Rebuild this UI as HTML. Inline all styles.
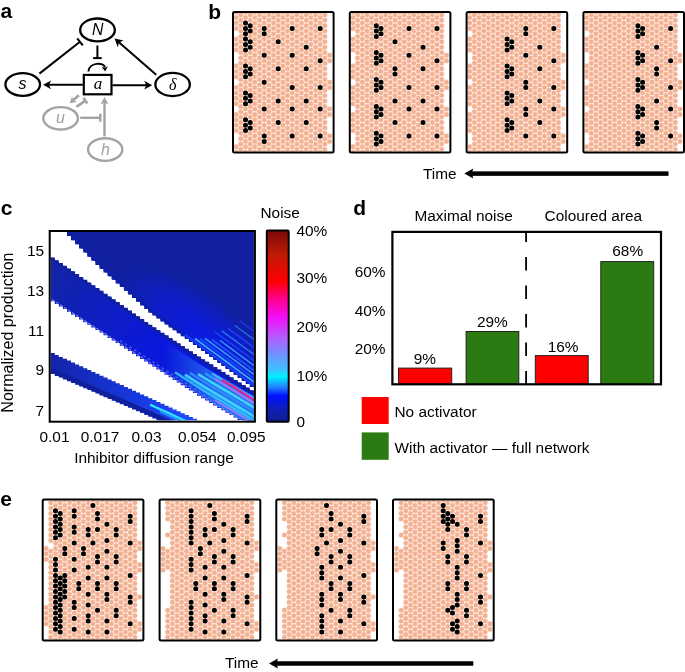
<!DOCTYPE html>
<html><head><meta charset="utf-8"><style>
html,body{margin:0;padding:0;background:#fff;}
svg{display:block;will-change:transform;}
svg{font-family:"Liberation Sans",sans-serif;}
</style></head><body>
<svg width="685" height="672" viewBox="0 0 685 672">
<rect width="685" height="672" fill="#fff"/>
<text x="208.2" y="18.8" font-weight="bold" font-size="21">b</text>
<text x="0.8" y="215.2" font-weight="bold" font-size="21">c</text>
<text x="353.3" y="215" font-weight="bold" font-size="21">d</text>
<text x="0.3" y="505.6" font-weight="bold" font-size="21">e</text>
<text x="0.6" y="18.4" font-weight="bold" font-size="21">a</text>
<ellipse cx="97.5" cy="29.95" rx="17.35" ry="11.45" fill="none" stroke="#000" stroke-width="2.3"/>
<text x="97.8" y="34.8" font-style="italic" font-size="15.8" text-anchor="middle">N</text>
<ellipse cx="22.7" cy="84.5" rx="17.3" ry="11.3" fill="none" stroke="#000" stroke-width="2.3"/>
<text x="22.5" y="88.9" font-style="italic" font-size="16" text-anchor="middle">s</text>
<ellipse cx="172.6" cy="84.5" rx="17.25" ry="11.55" fill="none" stroke="#000" stroke-width="2.3"/>
<text x="172.8" y="89.6" font-family="Liberation Serif" font-style="italic" font-size="16" text-anchor="middle">δ</text>
<rect x="83.8" y="74.9" width="27.7" height="19.4" fill="none" stroke="#000" stroke-width="2.2"/>
<text x="97.9" y="89.4" font-family="Liberation Serif" font-style="italic" font-size="17" text-anchor="middle">a</text>
<line x1="82.80" y1="84.80" x2="46.10" y2="84.80" stroke="#000" stroke-width="2"/><polygon fill="#000" points="43.10,84.80 51.10,80.40 48.90,84.80 51.10,89.20"/>
<line x1="112.50" y1="85.20" x2="149.20" y2="85.20" stroke="#000" stroke-width="2"/><polygon fill="#000" points="152.20,85.20 144.20,89.60 146.40,85.20 144.20,80.80"/>
<line x1="156.20" y1="74.80" x2="116.86" y2="40.57" stroke="#000" stroke-width="2"/><polygon fill="#000" points="114.60,38.60 123.52,40.53 118.98,42.41 117.75,47.17"/>
<line x1="39.40" y1="73.60" x2="80.00" y2="41.80" stroke="#000" stroke-width="2"/><line x1="82.77" y1="45.34" x2="77.23" y2="38.26" stroke="#000" stroke-width="2"/>
<line x1="97.40" y1="45.50" x2="97.40" y2="58.10" stroke="#000" stroke-width="2"/><line x1="93.10" y1="58.10" x2="101.70" y2="58.10" stroke="#000" stroke-width="2"/>
<path d="M88.4 71.5 C88.6 62.5 104.5 61.5 104.8 67.5" fill="none" stroke="#000" stroke-width="2"/>
<polygon fill="#000" points="105.20,71.50 101.52,66.84 104.85,68.02 107.89,66.21"/>
<ellipse cx="60.6" cy="118.3" rx="17.3" ry="11.2" fill="none" stroke="#a3a3a3" stroke-width="2.4"/>
<text x="60.5" y="123.3" font-style="italic" font-size="16" text-anchor="middle" fill="#a3a3a3">u</text>
<ellipse cx="105.2" cy="149.6" rx="17.1" ry="11.3" fill="none" stroke="#a3a3a3" stroke-width="2.4"/>
<text x="105.4" y="155" font-style="italic" font-size="16" text-anchor="middle" fill="#a3a3a3">h</text>
<line x1="104.50" y1="136.30" x2="104.50" y2="100.00" stroke="#a3a3a3" stroke-width="2.4"/><polygon fill="#a3a3a3" points="104.50,97.00 108.50,104.50 104.50,102.30 100.50,104.50"/>
<line x1="80.20" y1="117.80" x2="100.30" y2="117.80" stroke="#a3a3a3" stroke-width="2.4"/><line x1="100.30" y1="121.80" x2="100.30" y2="113.80" stroke="#a3a3a3" stroke-width="2.4"/>
<line x1="78.80" y1="95.20" x2="72.04" y2="101.21" stroke="#a3a3a3" stroke-width="2.8"/><polygon fill="#a3a3a3" points="69.80,103.20 72.13,96.04 73.01,100.34 77.18,101.72"/>
<line x1="76.40" y1="106.90" x2="85.40" y2="100.60" stroke="#a3a3a3" stroke-width="2.6"/><line x1="87.35" y1="103.39" x2="83.45" y2="97.81" stroke="#a3a3a3" stroke-width="2.6"/>
<clipPath id="cb0"><rect x="234" y="13" width="98.6" height="138.6"/></clipPath>
<g clip-path="url(#cb0)" stroke-linecap="round" fill="none"><defs><path id="pb0" d="M236.2 12.2h0M236.2 17.6h0M236.2 23.0h0M236.2 28.4h0M236.2 39.1h0M236.2 44.5h0M236.2 49.9h0M236.2 66.0h0M236.2 71.4h0M236.2 76.8h0M236.2 87.6h0M236.2 92.9h0M236.2 98.3h0M236.2 103.7h0M236.2 114.5h0M236.2 119.8h0M236.2 125.2h0M236.2 130.6h0M236.2 146.7h0M236.2 152.1h0M240.8 9.5h0M240.8 14.9h0M240.8 20.3h0M240.8 25.7h0M240.8 31.1h0M240.8 36.4h0M240.8 41.8h0M240.8 47.2h0M240.8 52.6h0M240.8 58.0h0M240.8 63.3h0M240.8 68.7h0M240.8 74.1h0M240.8 79.5h0M240.8 84.9h0M240.8 90.2h0M240.8 95.6h0M240.8 101.0h0M240.8 106.4h0M240.8 111.8h0M240.8 117.1h0M240.8 122.5h0M240.8 127.9h0M240.8 133.3h0M240.8 138.7h0M240.8 144.1h0M240.8 149.4h0M240.8 154.8h0M245.5 12.2h0M245.5 17.6h0M245.5 23.0h0M245.5 28.4h0M245.5 33.8h0M245.5 39.1h0M245.5 44.5h0M245.5 49.9h0M245.5 55.3h0M245.5 60.7h0M245.5 66.0h0M245.5 71.4h0M245.5 76.8h0M245.5 82.2h0M245.5 87.6h0M245.5 92.9h0M245.5 98.3h0M245.5 103.7h0M245.5 109.1h0M245.5 114.5h0M245.5 119.8h0M245.5 125.2h0M245.5 130.6h0M245.5 136.0h0M245.5 141.4h0M245.5 146.7h0M245.5 152.1h0M250.2 9.5h0M250.2 14.9h0M250.2 20.3h0M250.2 25.7h0M250.2 31.1h0M250.2 36.4h0M250.2 41.8h0M250.2 47.2h0M250.2 52.6h0M250.2 58.0h0M250.2 63.3h0M250.2 68.7h0M250.2 74.1h0M250.2 79.5h0M250.2 84.9h0M250.2 90.2h0M250.2 95.6h0M250.2 101.0h0M250.2 106.4h0M250.2 111.8h0M250.2 117.1h0M250.2 122.5h0M250.2 127.9h0M250.2 133.3h0M250.2 138.7h0M250.2 144.1h0M250.2 149.4h0M250.2 154.8h0M254.8 12.2h0M254.8 17.6h0M254.8 23.0h0M254.8 28.4h0M254.8 33.8h0M254.8 39.1h0M254.8 44.5h0M254.8 49.9h0M254.8 55.3h0M254.8 60.7h0M254.8 66.0h0M254.8 71.4h0M254.8 76.8h0M254.8 82.2h0M254.8 87.6h0M254.8 92.9h0M254.8 98.3h0M254.8 103.7h0M254.8 109.1h0M254.8 114.5h0M254.8 119.8h0M254.8 125.2h0M254.8 130.6h0M254.8 136.0h0M254.8 141.4h0M254.8 146.7h0M254.8 152.1h0M259.5 9.5h0M259.5 14.9h0M259.5 20.3h0M259.5 25.7h0M259.5 31.1h0M259.5 36.4h0M259.5 41.8h0M259.5 47.2h0M259.5 52.6h0M259.5 58.0h0M259.5 63.3h0M259.5 68.7h0M259.5 74.1h0M259.5 79.5h0M259.5 84.9h0M259.5 90.2h0M259.5 95.6h0M259.5 101.0h0M259.5 106.4h0M259.5 111.8h0M259.5 117.1h0M259.5 122.5h0M259.5 127.9h0M259.5 133.3h0M259.5 138.7h0M259.5 144.1h0M259.5 149.4h0M259.5 154.8h0M264.2 12.2h0M264.2 17.6h0M264.2 23.0h0M264.2 28.4h0M264.2 33.8h0M264.2 39.1h0M264.2 44.5h0M264.2 49.9h0M264.2 55.3h0M264.2 60.7h0M264.2 66.0h0M264.2 71.4h0M264.2 76.8h0M264.2 82.2h0M264.2 87.6h0M264.2 92.9h0M264.2 98.3h0M264.2 103.7h0M264.2 109.1h0M264.2 114.5h0M264.2 119.8h0M264.2 125.2h0M264.2 130.6h0M264.2 136.0h0M264.2 141.4h0M264.2 146.7h0M264.2 152.1h0M268.9 9.5h0M268.9 14.9h0M268.9 20.3h0M268.9 25.7h0M268.9 31.1h0M268.9 36.4h0M268.9 41.8h0M268.9 47.2h0M268.9 52.6h0M268.9 58.0h0M268.9 63.3h0M268.9 68.7h0M268.9 74.1h0M268.9 79.5h0M268.9 84.9h0M268.9 90.2h0M268.9 95.6h0M268.9 101.0h0M268.9 106.4h0M268.9 111.8h0M268.9 117.1h0M268.9 122.5h0M268.9 127.9h0M268.9 133.3h0M268.9 138.7h0M268.9 144.1h0M268.9 149.4h0M268.9 154.8h0M273.5 12.2h0M273.5 17.6h0M273.5 23.0h0M273.5 28.4h0M273.5 33.8h0M273.5 39.1h0M273.5 44.5h0M273.5 49.9h0M273.5 55.3h0M273.5 60.7h0M273.5 66.0h0M273.5 71.4h0M273.5 76.8h0M273.5 82.2h0M273.5 87.6h0M273.5 92.9h0M273.5 98.3h0M273.5 103.7h0M273.5 109.1h0M273.5 114.5h0M273.5 119.8h0M273.5 125.2h0M273.5 130.6h0M273.5 136.0h0M273.5 141.4h0M273.5 146.7h0M273.5 152.1h0M278.2 9.5h0M278.2 14.9h0M278.2 20.3h0M278.2 25.7h0M278.2 31.1h0M278.2 36.4h0M278.2 41.8h0M278.2 47.2h0M278.2 52.6h0M278.2 58.0h0M278.2 63.3h0M278.2 68.7h0M278.2 74.1h0M278.2 79.5h0M278.2 84.9h0M278.2 90.2h0M278.2 95.6h0M278.2 101.0h0M278.2 106.4h0M278.2 111.8h0M278.2 117.1h0M278.2 122.5h0M278.2 127.9h0M278.2 133.3h0M278.2 138.7h0M278.2 144.1h0M278.2 149.4h0M278.2 154.8h0M282.9 12.2h0M282.9 17.6h0M282.9 23.0h0M282.9 28.4h0M282.9 33.8h0M282.9 39.1h0M282.9 44.5h0M282.9 49.9h0M282.9 55.3h0M282.9 60.7h0M282.9 66.0h0M282.9 71.4h0M282.9 76.8h0M282.9 82.2h0M282.9 87.6h0M282.9 92.9h0M282.9 98.3h0M282.9 103.7h0M282.9 109.1h0M282.9 114.5h0M282.9 119.8h0M282.9 125.2h0M282.9 130.6h0M282.9 136.0h0M282.9 141.4h0M282.9 146.7h0M282.9 152.1h0M287.5 9.5h0M287.5 14.9h0M287.5 20.3h0M287.5 25.7h0M287.5 31.1h0M287.5 36.4h0M287.5 41.8h0M287.5 47.2h0M287.5 52.6h0M287.5 58.0h0M287.5 63.3h0M287.5 68.7h0M287.5 74.1h0M287.5 79.5h0M287.5 84.9h0M287.5 90.2h0M287.5 95.6h0M287.5 101.0h0M287.5 106.4h0M287.5 111.8h0M287.5 117.1h0M287.5 122.5h0M287.5 127.9h0M287.5 133.3h0M287.5 138.7h0M287.5 144.1h0M287.5 149.4h0M287.5 154.8h0M292.2 12.2h0M292.2 17.6h0M292.2 23.0h0M292.2 28.4h0M292.2 33.8h0M292.2 39.1h0M292.2 44.5h0M292.2 49.9h0M292.2 55.3h0M292.2 60.7h0M292.2 66.0h0M292.2 71.4h0M292.2 76.8h0M292.2 82.2h0M292.2 87.6h0M292.2 92.9h0M292.2 98.3h0M292.2 103.7h0M292.2 109.1h0M292.2 114.5h0M292.2 119.8h0M292.2 125.2h0M292.2 130.6h0M292.2 136.0h0M292.2 141.4h0M292.2 146.7h0M292.2 152.1h0M296.9 9.5h0M296.9 14.9h0M296.9 20.3h0M296.9 25.7h0M296.9 31.1h0M296.9 36.4h0M296.9 41.8h0M296.9 47.2h0M296.9 52.6h0M296.9 58.0h0M296.9 63.3h0M296.9 68.7h0M296.9 74.1h0M296.9 79.5h0M296.9 84.9h0M296.9 90.2h0M296.9 95.6h0M296.9 101.0h0M296.9 106.4h0M296.9 111.8h0M296.9 117.1h0M296.9 122.5h0M296.9 127.9h0M296.9 133.3h0M296.9 138.7h0M296.9 144.1h0M296.9 149.4h0M296.9 154.8h0M301.5 12.2h0M301.5 17.6h0M301.5 23.0h0M301.5 28.4h0M301.5 33.8h0M301.5 39.1h0M301.5 44.5h0M301.5 49.9h0M301.5 55.3h0M301.5 60.7h0M301.5 66.0h0M301.5 71.4h0M301.5 76.8h0M301.5 82.2h0M301.5 87.6h0M301.5 92.9h0M301.5 98.3h0M301.5 103.7h0M301.5 109.1h0M301.5 114.5h0M301.5 119.8h0M301.5 125.2h0M301.5 130.6h0M301.5 136.0h0M301.5 141.4h0M301.5 146.7h0M301.5 152.1h0M306.2 9.5h0M306.2 14.9h0M306.2 20.3h0M306.2 25.7h0M306.2 31.1h0M306.2 36.4h0M306.2 41.8h0M306.2 47.2h0M306.2 52.6h0M306.2 58.0h0M306.2 63.3h0M306.2 68.7h0M306.2 74.1h0M306.2 79.5h0M306.2 84.9h0M306.2 90.2h0M306.2 95.6h0M306.2 101.0h0M306.2 106.4h0M306.2 111.8h0M306.2 117.1h0M306.2 122.5h0M306.2 127.9h0M306.2 133.3h0M306.2 138.7h0M306.2 144.1h0M306.2 149.4h0M306.2 154.8h0M310.9 12.2h0M310.9 17.6h0M310.9 23.0h0M310.9 28.4h0M310.9 33.8h0M310.9 39.1h0M310.9 44.5h0M310.9 49.9h0M310.9 55.3h0M310.9 60.7h0M310.9 66.0h0M310.9 71.4h0M310.9 76.8h0M310.9 82.2h0M310.9 87.6h0M310.9 92.9h0M310.9 98.3h0M310.9 103.7h0M310.9 109.1h0M310.9 114.5h0M310.9 119.8h0M310.9 125.2h0M310.9 130.6h0M310.9 136.0h0M310.9 141.4h0M310.9 146.7h0M310.9 152.1h0M315.6 9.5h0M315.6 14.9h0M315.6 20.3h0M315.6 25.7h0M315.6 31.1h0M315.6 36.4h0M315.6 41.8h0M315.6 47.2h0M315.6 52.6h0M315.6 58.0h0M315.6 63.3h0M315.6 68.7h0M315.6 74.1h0M315.6 79.5h0M315.6 84.9h0M315.6 90.2h0M315.6 95.6h0M315.6 101.0h0M315.6 106.4h0M315.6 111.8h0M315.6 117.1h0M315.6 122.5h0M315.6 127.9h0M315.6 133.3h0M315.6 138.7h0M315.6 144.1h0M315.6 149.4h0M315.6 154.8h0M320.2 12.2h0M320.2 17.6h0M320.2 23.0h0M320.2 28.4h0M320.2 33.8h0M320.2 39.1h0M320.2 44.5h0M320.2 49.9h0M320.2 55.3h0M320.2 60.7h0M320.2 66.0h0M320.2 71.4h0M320.2 76.8h0M320.2 82.2h0M320.2 87.6h0M320.2 92.9h0M320.2 98.3h0M320.2 103.7h0M320.2 109.1h0M320.2 114.5h0M320.2 119.8h0M320.2 125.2h0M320.2 130.6h0M320.2 136.0h0M320.2 141.4h0M320.2 146.7h0M320.2 152.1h0M324.9 9.5h0M324.9 14.9h0M324.9 20.3h0M324.9 25.7h0M324.9 31.1h0M324.9 36.4h0M324.9 41.8h0M324.9 47.2h0M324.9 52.6h0M324.9 58.0h0M324.9 63.3h0M324.9 68.7h0M324.9 74.1h0M324.9 79.5h0M324.9 84.9h0M324.9 90.2h0M324.9 95.6h0M324.9 101.0h0M324.9 106.4h0M324.9 111.8h0M324.9 117.1h0M324.9 122.5h0M324.9 127.9h0M324.9 133.3h0M324.9 138.7h0M324.9 144.1h0M324.9 149.4h0M324.9 154.8h0M329.6 55.3h0M329.6 60.7h0M329.6 82.2h0M329.6 87.6h0M329.6 109.1h0M329.6 114.5h0M329.6 136.0h0M329.6 141.4h0"/></defs><use href="#pb0" stroke="#fbdccb" stroke-width="5.5"/><use href="#pb0" stroke="#f3b092" stroke-width="4.4"/></g>
<path clip-path="url(#cb0)" stroke="#000" stroke-width="5.0" stroke-linecap="round" fill="none" d="M245.5 23.0h0M245.5 28.4h0M245.5 33.8h0M245.5 39.1h0M245.5 44.5h0M245.5 49.9h0M245.5 66.0h0M245.5 71.4h0M245.5 76.8h0M245.5 92.9h0M245.5 98.3h0M245.5 103.7h0M245.5 119.8h0M245.5 125.2h0M245.5 130.6h0M250.2 25.7h0M250.2 31.1h0M250.2 41.8h0M250.2 47.2h0M250.2 68.7h0M250.2 74.1h0M250.2 95.6h0M250.2 101.0h0M250.2 122.5h0M250.2 127.9h0M264.2 28.4h0M264.2 33.8h0M264.2 55.3h0M264.2 82.2h0M264.2 109.1h0M264.2 136.0h0M264.2 141.4h0M278.2 41.8h0M278.2 68.7h0M278.2 101.0h0M278.2 122.5h0M292.2 28.4h0M292.2 55.3h0M292.2 87.6h0M292.2 109.1h0M292.2 136.0h0M306.2 47.2h0M306.2 68.7h0M306.2 101.0h0M306.2 122.5h0M320.2 28.4h0M320.2 60.7h0M320.2 87.6h0M320.2 109.1h0M320.2 136.0h0"/>
<rect x="233" y="12" width="100.6" height="140.6" fill="none" stroke="#000" stroke-width="2" rx="1.5"/>
<clipPath id="cb1"><rect x="350.8" y="13" width="98.6" height="138.6"/></clipPath>
<g clip-path="url(#cb1)" stroke-linecap="round" fill="none"><defs><path id="pb1" d="M353.0 12.2h0M353.0 17.6h0M353.0 23.0h0M353.0 28.4h0M353.0 39.1h0M353.0 44.5h0M353.0 49.9h0M353.0 66.0h0M353.0 71.4h0M353.0 76.8h0M353.0 87.6h0M353.0 92.9h0M353.0 98.3h0M353.0 103.7h0M353.0 114.5h0M353.0 119.8h0M353.0 125.2h0M353.0 130.6h0M353.0 146.7h0M353.0 152.1h0M357.6 9.5h0M357.6 14.9h0M357.6 20.3h0M357.6 25.7h0M357.6 31.1h0M357.6 36.4h0M357.6 41.8h0M357.6 47.2h0M357.6 52.6h0M357.6 58.0h0M357.6 63.3h0M357.6 68.7h0M357.6 74.1h0M357.6 79.5h0M357.6 84.9h0M357.6 90.2h0M357.6 95.6h0M357.6 101.0h0M357.6 106.4h0M357.6 111.8h0M357.6 117.1h0M357.6 122.5h0M357.6 127.9h0M357.6 133.3h0M357.6 138.7h0M357.6 144.1h0M357.6 149.4h0M357.6 154.8h0M362.3 12.2h0M362.3 17.6h0M362.3 23.0h0M362.3 28.4h0M362.3 33.8h0M362.3 39.1h0M362.3 44.5h0M362.3 49.9h0M362.3 55.3h0M362.3 60.7h0M362.3 66.0h0M362.3 71.4h0M362.3 76.8h0M362.3 82.2h0M362.3 87.6h0M362.3 92.9h0M362.3 98.3h0M362.3 103.7h0M362.3 109.1h0M362.3 114.5h0M362.3 119.8h0M362.3 125.2h0M362.3 130.6h0M362.3 136.0h0M362.3 141.4h0M362.3 146.7h0M362.3 152.1h0M367.0 9.5h0M367.0 14.9h0M367.0 20.3h0M367.0 25.7h0M367.0 31.1h0M367.0 36.4h0M367.0 41.8h0M367.0 47.2h0M367.0 52.6h0M367.0 58.0h0M367.0 63.3h0M367.0 68.7h0M367.0 74.1h0M367.0 79.5h0M367.0 84.9h0M367.0 90.2h0M367.0 95.6h0M367.0 101.0h0M367.0 106.4h0M367.0 111.8h0M367.0 117.1h0M367.0 122.5h0M367.0 127.9h0M367.0 133.3h0M367.0 138.7h0M367.0 144.1h0M367.0 149.4h0M367.0 154.8h0M371.6 12.2h0M371.6 17.6h0M371.6 23.0h0M371.6 28.4h0M371.6 33.8h0M371.6 39.1h0M371.6 44.5h0M371.6 49.9h0M371.6 55.3h0M371.6 60.7h0M371.6 66.0h0M371.6 71.4h0M371.6 76.8h0M371.6 82.2h0M371.6 87.6h0M371.6 92.9h0M371.6 98.3h0M371.6 103.7h0M371.6 109.1h0M371.6 114.5h0M371.6 119.8h0M371.6 125.2h0M371.6 130.6h0M371.6 136.0h0M371.6 141.4h0M371.6 146.7h0M371.6 152.1h0M376.3 9.5h0M376.3 14.9h0M376.3 20.3h0M376.3 25.7h0M376.3 31.1h0M376.3 36.4h0M376.3 41.8h0M376.3 47.2h0M376.3 52.6h0M376.3 58.0h0M376.3 63.3h0M376.3 68.7h0M376.3 74.1h0M376.3 79.5h0M376.3 84.9h0M376.3 90.2h0M376.3 95.6h0M376.3 101.0h0M376.3 106.4h0M376.3 111.8h0M376.3 117.1h0M376.3 122.5h0M376.3 127.9h0M376.3 133.3h0M376.3 138.7h0M376.3 144.1h0M376.3 149.4h0M376.3 154.8h0M381.0 12.2h0M381.0 17.6h0M381.0 23.0h0M381.0 28.4h0M381.0 33.8h0M381.0 39.1h0M381.0 44.5h0M381.0 49.9h0M381.0 55.3h0M381.0 60.7h0M381.0 66.0h0M381.0 71.4h0M381.0 76.8h0M381.0 82.2h0M381.0 87.6h0M381.0 92.9h0M381.0 98.3h0M381.0 103.7h0M381.0 109.1h0M381.0 114.5h0M381.0 119.8h0M381.0 125.2h0M381.0 130.6h0M381.0 136.0h0M381.0 141.4h0M381.0 146.7h0M381.0 152.1h0M385.7 9.5h0M385.7 14.9h0M385.7 20.3h0M385.7 25.7h0M385.7 31.1h0M385.7 36.4h0M385.7 41.8h0M385.7 47.2h0M385.7 52.6h0M385.7 58.0h0M385.7 63.3h0M385.7 68.7h0M385.7 74.1h0M385.7 79.5h0M385.7 84.9h0M385.7 90.2h0M385.7 95.6h0M385.7 101.0h0M385.7 106.4h0M385.7 111.8h0M385.7 117.1h0M385.7 122.5h0M385.7 127.9h0M385.7 133.3h0M385.7 138.7h0M385.7 144.1h0M385.7 149.4h0M385.7 154.8h0M390.3 12.2h0M390.3 17.6h0M390.3 23.0h0M390.3 28.4h0M390.3 33.8h0M390.3 39.1h0M390.3 44.5h0M390.3 49.9h0M390.3 55.3h0M390.3 60.7h0M390.3 66.0h0M390.3 71.4h0M390.3 76.8h0M390.3 82.2h0M390.3 87.6h0M390.3 92.9h0M390.3 98.3h0M390.3 103.7h0M390.3 109.1h0M390.3 114.5h0M390.3 119.8h0M390.3 125.2h0M390.3 130.6h0M390.3 136.0h0M390.3 141.4h0M390.3 146.7h0M390.3 152.1h0M395.0 9.5h0M395.0 14.9h0M395.0 20.3h0M395.0 25.7h0M395.0 31.1h0M395.0 36.4h0M395.0 41.8h0M395.0 47.2h0M395.0 52.6h0M395.0 58.0h0M395.0 63.3h0M395.0 68.7h0M395.0 74.1h0M395.0 79.5h0M395.0 84.9h0M395.0 90.2h0M395.0 95.6h0M395.0 101.0h0M395.0 106.4h0M395.0 111.8h0M395.0 117.1h0M395.0 122.5h0M395.0 127.9h0M395.0 133.3h0M395.0 138.7h0M395.0 144.1h0M395.0 149.4h0M395.0 154.8h0M399.7 12.2h0M399.7 17.6h0M399.7 23.0h0M399.7 28.4h0M399.7 33.8h0M399.7 39.1h0M399.7 44.5h0M399.7 49.9h0M399.7 55.3h0M399.7 60.7h0M399.7 66.0h0M399.7 71.4h0M399.7 76.8h0M399.7 82.2h0M399.7 87.6h0M399.7 92.9h0M399.7 98.3h0M399.7 103.7h0M399.7 109.1h0M399.7 114.5h0M399.7 119.8h0M399.7 125.2h0M399.7 130.6h0M399.7 136.0h0M399.7 141.4h0M399.7 146.7h0M399.7 152.1h0M404.3 9.5h0M404.3 14.9h0M404.3 20.3h0M404.3 25.7h0M404.3 31.1h0M404.3 36.4h0M404.3 41.8h0M404.3 47.2h0M404.3 52.6h0M404.3 58.0h0M404.3 63.3h0M404.3 68.7h0M404.3 74.1h0M404.3 79.5h0M404.3 84.9h0M404.3 90.2h0M404.3 95.6h0M404.3 101.0h0M404.3 106.4h0M404.3 111.8h0M404.3 117.1h0M404.3 122.5h0M404.3 127.9h0M404.3 133.3h0M404.3 138.7h0M404.3 144.1h0M404.3 149.4h0M404.3 154.8h0M409.0 12.2h0M409.0 17.6h0M409.0 23.0h0M409.0 28.4h0M409.0 33.8h0M409.0 39.1h0M409.0 44.5h0M409.0 49.9h0M409.0 55.3h0M409.0 60.7h0M409.0 66.0h0M409.0 71.4h0M409.0 76.8h0M409.0 82.2h0M409.0 87.6h0M409.0 92.9h0M409.0 98.3h0M409.0 103.7h0M409.0 109.1h0M409.0 114.5h0M409.0 119.8h0M409.0 125.2h0M409.0 130.6h0M409.0 136.0h0M409.0 141.4h0M409.0 146.7h0M409.0 152.1h0M413.7 9.5h0M413.7 14.9h0M413.7 20.3h0M413.7 25.7h0M413.7 31.1h0M413.7 36.4h0M413.7 41.8h0M413.7 47.2h0M413.7 52.6h0M413.7 58.0h0M413.7 63.3h0M413.7 68.7h0M413.7 74.1h0M413.7 79.5h0M413.7 84.9h0M413.7 90.2h0M413.7 95.6h0M413.7 101.0h0M413.7 106.4h0M413.7 111.8h0M413.7 117.1h0M413.7 122.5h0M413.7 127.9h0M413.7 133.3h0M413.7 138.7h0M413.7 144.1h0M413.7 149.4h0M413.7 154.8h0M418.3 12.2h0M418.3 17.6h0M418.3 23.0h0M418.3 28.4h0M418.3 33.8h0M418.3 39.1h0M418.3 44.5h0M418.3 49.9h0M418.3 55.3h0M418.3 60.7h0M418.3 66.0h0M418.3 71.4h0M418.3 76.8h0M418.3 82.2h0M418.3 87.6h0M418.3 92.9h0M418.3 98.3h0M418.3 103.7h0M418.3 109.1h0M418.3 114.5h0M418.3 119.8h0M418.3 125.2h0M418.3 130.6h0M418.3 136.0h0M418.3 141.4h0M418.3 146.7h0M418.3 152.1h0M423.0 9.5h0M423.0 14.9h0M423.0 20.3h0M423.0 25.7h0M423.0 31.1h0M423.0 36.4h0M423.0 41.8h0M423.0 47.2h0M423.0 52.6h0M423.0 58.0h0M423.0 63.3h0M423.0 68.7h0M423.0 74.1h0M423.0 79.5h0M423.0 84.9h0M423.0 90.2h0M423.0 95.6h0M423.0 101.0h0M423.0 106.4h0M423.0 111.8h0M423.0 117.1h0M423.0 122.5h0M423.0 127.9h0M423.0 133.3h0M423.0 138.7h0M423.0 144.1h0M423.0 149.4h0M423.0 154.8h0M427.7 12.2h0M427.7 17.6h0M427.7 23.0h0M427.7 28.4h0M427.7 33.8h0M427.7 39.1h0M427.7 44.5h0M427.7 49.9h0M427.7 55.3h0M427.7 60.7h0M427.7 66.0h0M427.7 71.4h0M427.7 76.8h0M427.7 82.2h0M427.7 87.6h0M427.7 92.9h0M427.7 98.3h0M427.7 103.7h0M427.7 109.1h0M427.7 114.5h0M427.7 119.8h0M427.7 125.2h0M427.7 130.6h0M427.7 136.0h0M427.7 141.4h0M427.7 146.7h0M427.7 152.1h0M432.4 9.5h0M432.4 14.9h0M432.4 20.3h0M432.4 25.7h0M432.4 31.1h0M432.4 36.4h0M432.4 41.8h0M432.4 47.2h0M432.4 52.6h0M432.4 58.0h0M432.4 63.3h0M432.4 68.7h0M432.4 74.1h0M432.4 79.5h0M432.4 84.9h0M432.4 90.2h0M432.4 95.6h0M432.4 101.0h0M432.4 106.4h0M432.4 111.8h0M432.4 117.1h0M432.4 122.5h0M432.4 127.9h0M432.4 133.3h0M432.4 138.7h0M432.4 144.1h0M432.4 149.4h0M432.4 154.8h0M437.0 12.2h0M437.0 17.6h0M437.0 23.0h0M437.0 28.4h0M437.0 33.8h0M437.0 39.1h0M437.0 44.5h0M437.0 49.9h0M437.0 55.3h0M437.0 60.7h0M437.0 66.0h0M437.0 71.4h0M437.0 76.8h0M437.0 82.2h0M437.0 87.6h0M437.0 92.9h0M437.0 98.3h0M437.0 103.7h0M437.0 109.1h0M437.0 114.5h0M437.0 119.8h0M437.0 125.2h0M437.0 130.6h0M437.0 136.0h0M437.0 141.4h0M437.0 146.7h0M437.0 152.1h0M441.7 9.5h0M441.7 14.9h0M441.7 20.3h0M441.7 25.7h0M441.7 31.1h0M441.7 36.4h0M441.7 41.8h0M441.7 47.2h0M441.7 52.6h0M441.7 58.0h0M441.7 63.3h0M441.7 68.7h0M441.7 74.1h0M441.7 79.5h0M441.7 84.9h0M441.7 90.2h0M441.7 95.6h0M441.7 101.0h0M441.7 106.4h0M441.7 111.8h0M441.7 117.1h0M441.7 122.5h0M441.7 127.9h0M441.7 133.3h0M441.7 138.7h0M441.7 144.1h0M441.7 149.4h0M441.7 154.8h0M446.4 55.3h0M446.4 60.7h0M446.4 82.2h0M446.4 87.6h0M446.4 109.1h0M446.4 114.5h0M446.4 136.0h0M446.4 141.4h0"/></defs><use href="#pb1" stroke="#fbdccb" stroke-width="5.5"/><use href="#pb1" stroke="#f3b092" stroke-width="4.4"/></g>
<path clip-path="url(#cb1)" stroke="#000" stroke-width="5.0" stroke-linecap="round" fill="none" d="M376.3 25.7h0M376.3 31.1h0M376.3 36.4h0M376.3 52.6h0M376.3 58.0h0M376.3 63.3h0M376.3 79.5h0M376.3 84.9h0M376.3 90.2h0M376.3 106.4h0M376.3 111.8h0M376.3 117.1h0M376.3 133.3h0M376.3 138.7h0M376.3 144.1h0M381.0 28.4h0M381.0 33.8h0M381.0 55.3h0M381.0 60.7h0M381.0 82.2h0M381.0 87.6h0M381.0 109.1h0M381.0 114.5h0M381.0 136.0h0M381.0 141.4h0M395.0 41.8h0M395.0 68.7h0M395.0 74.1h0M395.0 101.0h0M395.0 122.5h0M409.0 28.4h0M409.0 55.3h0M409.0 87.6h0M409.0 109.1h0M409.0 136.0h0M423.0 47.2h0M423.0 68.7h0M423.0 101.0h0M423.0 122.5h0M437.0 28.4h0M437.0 60.7h0M437.0 87.6h0M437.0 109.1h0M437.0 136.0h0"/>
<rect x="349.8" y="12" width="100.6" height="140.6" fill="none" stroke="#000" stroke-width="2" rx="1.5"/>
<clipPath id="cb2"><rect x="467.6" y="13" width="98.6" height="138.6"/></clipPath>
<g clip-path="url(#cb2)" stroke-linecap="round" fill="none"><defs><path id="pb2" d="M469.8 12.2h0M469.8 17.6h0M469.8 23.0h0M469.8 28.4h0M469.8 39.1h0M469.8 44.5h0M469.8 49.9h0M469.8 66.0h0M469.8 71.4h0M469.8 76.8h0M469.8 87.6h0M469.8 92.9h0M469.8 98.3h0M469.8 103.7h0M469.8 114.5h0M469.8 119.8h0M469.8 125.2h0M469.8 130.6h0M469.8 146.7h0M469.8 152.1h0M474.4 9.5h0M474.4 14.9h0M474.4 20.3h0M474.4 25.7h0M474.4 31.1h0M474.4 36.4h0M474.4 41.8h0M474.4 47.2h0M474.4 52.6h0M474.4 58.0h0M474.4 63.3h0M474.4 68.7h0M474.4 74.1h0M474.4 79.5h0M474.4 84.9h0M474.4 90.2h0M474.4 95.6h0M474.4 101.0h0M474.4 106.4h0M474.4 111.8h0M474.4 117.1h0M474.4 122.5h0M474.4 127.9h0M474.4 133.3h0M474.4 138.7h0M474.4 144.1h0M474.4 149.4h0M474.4 154.8h0M479.1 12.2h0M479.1 17.6h0M479.1 23.0h0M479.1 28.4h0M479.1 33.8h0M479.1 39.1h0M479.1 44.5h0M479.1 49.9h0M479.1 55.3h0M479.1 60.7h0M479.1 66.0h0M479.1 71.4h0M479.1 76.8h0M479.1 82.2h0M479.1 87.6h0M479.1 92.9h0M479.1 98.3h0M479.1 103.7h0M479.1 109.1h0M479.1 114.5h0M479.1 119.8h0M479.1 125.2h0M479.1 130.6h0M479.1 136.0h0M479.1 141.4h0M479.1 146.7h0M479.1 152.1h0M483.8 9.5h0M483.8 14.9h0M483.8 20.3h0M483.8 25.7h0M483.8 31.1h0M483.8 36.4h0M483.8 41.8h0M483.8 47.2h0M483.8 52.6h0M483.8 58.0h0M483.8 63.3h0M483.8 68.7h0M483.8 74.1h0M483.8 79.5h0M483.8 84.9h0M483.8 90.2h0M483.8 95.6h0M483.8 101.0h0M483.8 106.4h0M483.8 111.8h0M483.8 117.1h0M483.8 122.5h0M483.8 127.9h0M483.8 133.3h0M483.8 138.7h0M483.8 144.1h0M483.8 149.4h0M483.8 154.8h0M488.4 12.2h0M488.4 17.6h0M488.4 23.0h0M488.4 28.4h0M488.4 33.8h0M488.4 39.1h0M488.4 44.5h0M488.4 49.9h0M488.4 55.3h0M488.4 60.7h0M488.4 66.0h0M488.4 71.4h0M488.4 76.8h0M488.4 82.2h0M488.4 87.6h0M488.4 92.9h0M488.4 98.3h0M488.4 103.7h0M488.4 109.1h0M488.4 114.5h0M488.4 119.8h0M488.4 125.2h0M488.4 130.6h0M488.4 136.0h0M488.4 141.4h0M488.4 146.7h0M488.4 152.1h0M493.1 9.5h0M493.1 14.9h0M493.1 20.3h0M493.1 25.7h0M493.1 31.1h0M493.1 36.4h0M493.1 41.8h0M493.1 47.2h0M493.1 52.6h0M493.1 58.0h0M493.1 63.3h0M493.1 68.7h0M493.1 74.1h0M493.1 79.5h0M493.1 84.9h0M493.1 90.2h0M493.1 95.6h0M493.1 101.0h0M493.1 106.4h0M493.1 111.8h0M493.1 117.1h0M493.1 122.5h0M493.1 127.9h0M493.1 133.3h0M493.1 138.7h0M493.1 144.1h0M493.1 149.4h0M493.1 154.8h0M497.8 12.2h0M497.8 17.6h0M497.8 23.0h0M497.8 28.4h0M497.8 33.8h0M497.8 39.1h0M497.8 44.5h0M497.8 49.9h0M497.8 55.3h0M497.8 60.7h0M497.8 66.0h0M497.8 71.4h0M497.8 76.8h0M497.8 82.2h0M497.8 87.6h0M497.8 92.9h0M497.8 98.3h0M497.8 103.7h0M497.8 109.1h0M497.8 114.5h0M497.8 119.8h0M497.8 125.2h0M497.8 130.6h0M497.8 136.0h0M497.8 141.4h0M497.8 146.7h0M497.8 152.1h0M502.5 9.5h0M502.5 14.9h0M502.5 20.3h0M502.5 25.7h0M502.5 31.1h0M502.5 36.4h0M502.5 41.8h0M502.5 47.2h0M502.5 52.6h0M502.5 58.0h0M502.5 63.3h0M502.5 68.7h0M502.5 74.1h0M502.5 79.5h0M502.5 84.9h0M502.5 90.2h0M502.5 95.6h0M502.5 101.0h0M502.5 106.4h0M502.5 111.8h0M502.5 117.1h0M502.5 122.5h0M502.5 127.9h0M502.5 133.3h0M502.5 138.7h0M502.5 144.1h0M502.5 149.4h0M502.5 154.8h0M507.1 12.2h0M507.1 17.6h0M507.1 23.0h0M507.1 28.4h0M507.1 33.8h0M507.1 39.1h0M507.1 44.5h0M507.1 49.9h0M507.1 55.3h0M507.1 60.7h0M507.1 66.0h0M507.1 71.4h0M507.1 76.8h0M507.1 82.2h0M507.1 87.6h0M507.1 92.9h0M507.1 98.3h0M507.1 103.7h0M507.1 109.1h0M507.1 114.5h0M507.1 119.8h0M507.1 125.2h0M507.1 130.6h0M507.1 136.0h0M507.1 141.4h0M507.1 146.7h0M507.1 152.1h0M511.8 9.5h0M511.8 14.9h0M511.8 20.3h0M511.8 25.7h0M511.8 31.1h0M511.8 36.4h0M511.8 41.8h0M511.8 47.2h0M511.8 52.6h0M511.8 58.0h0M511.8 63.3h0M511.8 68.7h0M511.8 74.1h0M511.8 79.5h0M511.8 84.9h0M511.8 90.2h0M511.8 95.6h0M511.8 101.0h0M511.8 106.4h0M511.8 111.8h0M511.8 117.1h0M511.8 122.5h0M511.8 127.9h0M511.8 133.3h0M511.8 138.7h0M511.8 144.1h0M511.8 149.4h0M511.8 154.8h0M516.5 12.2h0M516.5 17.6h0M516.5 23.0h0M516.5 28.4h0M516.5 33.8h0M516.5 39.1h0M516.5 44.5h0M516.5 49.9h0M516.5 55.3h0M516.5 60.7h0M516.5 66.0h0M516.5 71.4h0M516.5 76.8h0M516.5 82.2h0M516.5 87.6h0M516.5 92.9h0M516.5 98.3h0M516.5 103.7h0M516.5 109.1h0M516.5 114.5h0M516.5 119.8h0M516.5 125.2h0M516.5 130.6h0M516.5 136.0h0M516.5 141.4h0M516.5 146.7h0M516.5 152.1h0M521.1 9.5h0M521.1 14.9h0M521.1 20.3h0M521.1 25.7h0M521.1 31.1h0M521.1 36.4h0M521.1 41.8h0M521.1 47.2h0M521.1 52.6h0M521.1 58.0h0M521.1 63.3h0M521.1 68.7h0M521.1 74.1h0M521.1 79.5h0M521.1 84.9h0M521.1 90.2h0M521.1 95.6h0M521.1 101.0h0M521.1 106.4h0M521.1 111.8h0M521.1 117.1h0M521.1 122.5h0M521.1 127.9h0M521.1 133.3h0M521.1 138.7h0M521.1 144.1h0M521.1 149.4h0M521.1 154.8h0M525.8 12.2h0M525.8 17.6h0M525.8 23.0h0M525.8 28.4h0M525.8 33.8h0M525.8 39.1h0M525.8 44.5h0M525.8 49.9h0M525.8 55.3h0M525.8 60.7h0M525.8 66.0h0M525.8 71.4h0M525.8 76.8h0M525.8 82.2h0M525.8 87.6h0M525.8 92.9h0M525.8 98.3h0M525.8 103.7h0M525.8 109.1h0M525.8 114.5h0M525.8 119.8h0M525.8 125.2h0M525.8 130.6h0M525.8 136.0h0M525.8 141.4h0M525.8 146.7h0M525.8 152.1h0M530.5 9.5h0M530.5 14.9h0M530.5 20.3h0M530.5 25.7h0M530.5 31.1h0M530.5 36.4h0M530.5 41.8h0M530.5 47.2h0M530.5 52.6h0M530.5 58.0h0M530.5 63.3h0M530.5 68.7h0M530.5 74.1h0M530.5 79.5h0M530.5 84.9h0M530.5 90.2h0M530.5 95.6h0M530.5 101.0h0M530.5 106.4h0M530.5 111.8h0M530.5 117.1h0M530.5 122.5h0M530.5 127.9h0M530.5 133.3h0M530.5 138.7h0M530.5 144.1h0M530.5 149.4h0M530.5 154.8h0M535.1 12.2h0M535.1 17.6h0M535.1 23.0h0M535.1 28.4h0M535.1 33.8h0M535.1 39.1h0M535.1 44.5h0M535.1 49.9h0M535.1 55.3h0M535.1 60.7h0M535.1 66.0h0M535.1 71.4h0M535.1 76.8h0M535.1 82.2h0M535.1 87.6h0M535.1 92.9h0M535.1 98.3h0M535.1 103.7h0M535.1 109.1h0M535.1 114.5h0M535.1 119.8h0M535.1 125.2h0M535.1 130.6h0M535.1 136.0h0M535.1 141.4h0M535.1 146.7h0M535.1 152.1h0M539.8 9.5h0M539.8 14.9h0M539.8 20.3h0M539.8 25.7h0M539.8 31.1h0M539.8 36.4h0M539.8 41.8h0M539.8 47.2h0M539.8 52.6h0M539.8 58.0h0M539.8 63.3h0M539.8 68.7h0M539.8 74.1h0M539.8 79.5h0M539.8 84.9h0M539.8 90.2h0M539.8 95.6h0M539.8 101.0h0M539.8 106.4h0M539.8 111.8h0M539.8 117.1h0M539.8 122.5h0M539.8 127.9h0M539.8 133.3h0M539.8 138.7h0M539.8 144.1h0M539.8 149.4h0M539.8 154.8h0M544.5 12.2h0M544.5 17.6h0M544.5 23.0h0M544.5 28.4h0M544.5 33.8h0M544.5 39.1h0M544.5 44.5h0M544.5 49.9h0M544.5 55.3h0M544.5 60.7h0M544.5 66.0h0M544.5 71.4h0M544.5 76.8h0M544.5 82.2h0M544.5 87.6h0M544.5 92.9h0M544.5 98.3h0M544.5 103.7h0M544.5 109.1h0M544.5 114.5h0M544.5 119.8h0M544.5 125.2h0M544.5 130.6h0M544.5 136.0h0M544.5 141.4h0M544.5 146.7h0M544.5 152.1h0M549.1 9.5h0M549.1 14.9h0M549.1 20.3h0M549.1 25.7h0M549.1 31.1h0M549.1 36.4h0M549.1 41.8h0M549.1 47.2h0M549.1 52.6h0M549.1 58.0h0M549.1 63.3h0M549.1 68.7h0M549.1 74.1h0M549.1 79.5h0M549.1 84.9h0M549.1 90.2h0M549.1 95.6h0M549.1 101.0h0M549.1 106.4h0M549.1 111.8h0M549.1 117.1h0M549.1 122.5h0M549.1 127.9h0M549.1 133.3h0M549.1 138.7h0M549.1 144.1h0M549.1 149.4h0M549.1 154.8h0M553.8 12.2h0M553.8 17.6h0M553.8 23.0h0M553.8 28.4h0M553.8 33.8h0M553.8 39.1h0M553.8 44.5h0M553.8 49.9h0M553.8 55.3h0M553.8 60.7h0M553.8 66.0h0M553.8 71.4h0M553.8 76.8h0M553.8 82.2h0M553.8 87.6h0M553.8 92.9h0M553.8 98.3h0M553.8 103.7h0M553.8 109.1h0M553.8 114.5h0M553.8 119.8h0M553.8 125.2h0M553.8 130.6h0M553.8 136.0h0M553.8 141.4h0M553.8 146.7h0M553.8 152.1h0M558.5 9.5h0M558.5 14.9h0M558.5 20.3h0M558.5 25.7h0M558.5 31.1h0M558.5 36.4h0M558.5 41.8h0M558.5 47.2h0M558.5 52.6h0M558.5 58.0h0M558.5 63.3h0M558.5 68.7h0M558.5 74.1h0M558.5 79.5h0M558.5 84.9h0M558.5 90.2h0M558.5 95.6h0M558.5 101.0h0M558.5 106.4h0M558.5 111.8h0M558.5 117.1h0M558.5 122.5h0M558.5 127.9h0M558.5 133.3h0M558.5 138.7h0M558.5 144.1h0M558.5 149.4h0M558.5 154.8h0M563.2 55.3h0M563.2 60.7h0M563.2 82.2h0M563.2 87.6h0M563.2 109.1h0M563.2 114.5h0M563.2 136.0h0M563.2 141.4h0"/></defs><use href="#pb2" stroke="#fbdccb" stroke-width="5.5"/><use href="#pb2" stroke="#f3b092" stroke-width="4.4"/></g>
<path clip-path="url(#cb2)" stroke="#000" stroke-width="5.0" stroke-linecap="round" fill="none" d="M507.1 39.1h0M507.1 44.5h0M507.1 49.9h0M507.1 66.0h0M507.1 71.4h0M507.1 76.8h0M507.1 92.9h0M507.1 98.3h0M507.1 103.7h0M507.1 119.8h0M507.1 125.2h0M507.1 130.6h0M511.8 41.8h0M511.8 47.2h0M511.8 68.7h0M511.8 74.1h0M511.8 95.6h0M511.8 101.0h0M511.8 122.5h0M511.8 127.9h0M525.8 28.4h0M525.8 33.8h0M525.8 55.3h0M525.8 82.2h0M525.8 87.6h0M525.8 109.1h0M525.8 114.5h0M525.8 136.0h0M539.8 47.2h0M539.8 68.7h0M539.8 101.0h0M539.8 122.5h0M553.8 28.4h0M553.8 60.7h0M553.8 87.6h0M553.8 109.1h0M553.8 136.0h0"/>
<rect x="466.6" y="12" width="100.6" height="140.6" fill="none" stroke="#000" stroke-width="2" rx="1.5"/>
<clipPath id="cb3"><rect x="584.4" y="13" width="98.6" height="138.6"/></clipPath>
<g clip-path="url(#cb3)" stroke-linecap="round" fill="none"><defs><path id="pb3" d="M586.6 12.2h0M586.6 17.6h0M586.6 23.0h0M586.6 28.4h0M586.6 39.1h0M586.6 44.5h0M586.6 49.9h0M586.6 66.0h0M586.6 71.4h0M586.6 76.8h0M586.6 87.6h0M586.6 92.9h0M586.6 98.3h0M586.6 103.7h0M586.6 114.5h0M586.6 119.8h0M586.6 125.2h0M586.6 130.6h0M586.6 146.7h0M586.6 152.1h0M591.2 9.5h0M591.2 14.9h0M591.2 20.3h0M591.2 25.7h0M591.2 31.1h0M591.2 36.4h0M591.2 41.8h0M591.2 47.2h0M591.2 52.6h0M591.2 58.0h0M591.2 63.3h0M591.2 68.7h0M591.2 74.1h0M591.2 79.5h0M591.2 84.9h0M591.2 90.2h0M591.2 95.6h0M591.2 101.0h0M591.2 106.4h0M591.2 111.8h0M591.2 117.1h0M591.2 122.5h0M591.2 127.9h0M591.2 133.3h0M591.2 138.7h0M591.2 144.1h0M591.2 149.4h0M591.2 154.8h0M595.9 12.2h0M595.9 17.6h0M595.9 23.0h0M595.9 28.4h0M595.9 33.8h0M595.9 39.1h0M595.9 44.5h0M595.9 49.9h0M595.9 55.3h0M595.9 60.7h0M595.9 66.0h0M595.9 71.4h0M595.9 76.8h0M595.9 82.2h0M595.9 87.6h0M595.9 92.9h0M595.9 98.3h0M595.9 103.7h0M595.9 109.1h0M595.9 114.5h0M595.9 119.8h0M595.9 125.2h0M595.9 130.6h0M595.9 136.0h0M595.9 141.4h0M595.9 146.7h0M595.9 152.1h0M600.6 9.5h0M600.6 14.9h0M600.6 20.3h0M600.6 25.7h0M600.6 31.1h0M600.6 36.4h0M600.6 41.8h0M600.6 47.2h0M600.6 52.6h0M600.6 58.0h0M600.6 63.3h0M600.6 68.7h0M600.6 74.1h0M600.6 79.5h0M600.6 84.9h0M600.6 90.2h0M600.6 95.6h0M600.6 101.0h0M600.6 106.4h0M600.6 111.8h0M600.6 117.1h0M600.6 122.5h0M600.6 127.9h0M600.6 133.3h0M600.6 138.7h0M600.6 144.1h0M600.6 149.4h0M600.6 154.8h0M605.2 12.2h0M605.2 17.6h0M605.2 23.0h0M605.2 28.4h0M605.2 33.8h0M605.2 39.1h0M605.2 44.5h0M605.2 49.9h0M605.2 55.3h0M605.2 60.7h0M605.2 66.0h0M605.2 71.4h0M605.2 76.8h0M605.2 82.2h0M605.2 87.6h0M605.2 92.9h0M605.2 98.3h0M605.2 103.7h0M605.2 109.1h0M605.2 114.5h0M605.2 119.8h0M605.2 125.2h0M605.2 130.6h0M605.2 136.0h0M605.2 141.4h0M605.2 146.7h0M605.2 152.1h0M609.9 9.5h0M609.9 14.9h0M609.9 20.3h0M609.9 25.7h0M609.9 31.1h0M609.9 36.4h0M609.9 41.8h0M609.9 47.2h0M609.9 52.6h0M609.9 58.0h0M609.9 63.3h0M609.9 68.7h0M609.9 74.1h0M609.9 79.5h0M609.9 84.9h0M609.9 90.2h0M609.9 95.6h0M609.9 101.0h0M609.9 106.4h0M609.9 111.8h0M609.9 117.1h0M609.9 122.5h0M609.9 127.9h0M609.9 133.3h0M609.9 138.7h0M609.9 144.1h0M609.9 149.4h0M609.9 154.8h0M614.6 12.2h0M614.6 17.6h0M614.6 23.0h0M614.6 28.4h0M614.6 33.8h0M614.6 39.1h0M614.6 44.5h0M614.6 49.9h0M614.6 55.3h0M614.6 60.7h0M614.6 66.0h0M614.6 71.4h0M614.6 76.8h0M614.6 82.2h0M614.6 87.6h0M614.6 92.9h0M614.6 98.3h0M614.6 103.7h0M614.6 109.1h0M614.6 114.5h0M614.6 119.8h0M614.6 125.2h0M614.6 130.6h0M614.6 136.0h0M614.6 141.4h0M614.6 146.7h0M614.6 152.1h0M619.2 9.5h0M619.2 14.9h0M619.2 20.3h0M619.2 25.7h0M619.2 31.1h0M619.2 36.4h0M619.2 41.8h0M619.2 47.2h0M619.2 52.6h0M619.2 58.0h0M619.2 63.3h0M619.2 68.7h0M619.2 74.1h0M619.2 79.5h0M619.2 84.9h0M619.2 90.2h0M619.2 95.6h0M619.2 101.0h0M619.2 106.4h0M619.2 111.8h0M619.2 117.1h0M619.2 122.5h0M619.2 127.9h0M619.2 133.3h0M619.2 138.7h0M619.2 144.1h0M619.2 149.4h0M619.2 154.8h0M623.9 12.2h0M623.9 17.6h0M623.9 23.0h0M623.9 28.4h0M623.9 33.8h0M623.9 39.1h0M623.9 44.5h0M623.9 49.9h0M623.9 55.3h0M623.9 60.7h0M623.9 66.0h0M623.9 71.4h0M623.9 76.8h0M623.9 82.2h0M623.9 87.6h0M623.9 92.9h0M623.9 98.3h0M623.9 103.7h0M623.9 109.1h0M623.9 114.5h0M623.9 119.8h0M623.9 125.2h0M623.9 130.6h0M623.9 136.0h0M623.9 141.4h0M623.9 146.7h0M623.9 152.1h0M628.6 9.5h0M628.6 14.9h0M628.6 20.3h0M628.6 25.7h0M628.6 31.1h0M628.6 36.4h0M628.6 41.8h0M628.6 47.2h0M628.6 52.6h0M628.6 58.0h0M628.6 63.3h0M628.6 68.7h0M628.6 74.1h0M628.6 79.5h0M628.6 84.9h0M628.6 90.2h0M628.6 95.6h0M628.6 101.0h0M628.6 106.4h0M628.6 111.8h0M628.6 117.1h0M628.6 122.5h0M628.6 127.9h0M628.6 133.3h0M628.6 138.7h0M628.6 144.1h0M628.6 149.4h0M628.6 154.8h0M633.3 12.2h0M633.3 17.6h0M633.3 23.0h0M633.3 28.4h0M633.3 33.8h0M633.3 39.1h0M633.3 44.5h0M633.3 49.9h0M633.3 55.3h0M633.3 60.7h0M633.3 66.0h0M633.3 71.4h0M633.3 76.8h0M633.3 82.2h0M633.3 87.6h0M633.3 92.9h0M633.3 98.3h0M633.3 103.7h0M633.3 109.1h0M633.3 114.5h0M633.3 119.8h0M633.3 125.2h0M633.3 130.6h0M633.3 136.0h0M633.3 141.4h0M633.3 146.7h0M633.3 152.1h0M637.9 9.5h0M637.9 14.9h0M637.9 20.3h0M637.9 25.7h0M637.9 31.1h0M637.9 36.4h0M637.9 41.8h0M637.9 47.2h0M637.9 52.6h0M637.9 58.0h0M637.9 63.3h0M637.9 68.7h0M637.9 74.1h0M637.9 79.5h0M637.9 84.9h0M637.9 90.2h0M637.9 95.6h0M637.9 101.0h0M637.9 106.4h0M637.9 111.8h0M637.9 117.1h0M637.9 122.5h0M637.9 127.9h0M637.9 133.3h0M637.9 138.7h0M637.9 144.1h0M637.9 149.4h0M637.9 154.8h0M642.6 12.2h0M642.6 17.6h0M642.6 23.0h0M642.6 28.4h0M642.6 33.8h0M642.6 39.1h0M642.6 44.5h0M642.6 49.9h0M642.6 55.3h0M642.6 60.7h0M642.6 66.0h0M642.6 71.4h0M642.6 76.8h0M642.6 82.2h0M642.6 87.6h0M642.6 92.9h0M642.6 98.3h0M642.6 103.7h0M642.6 109.1h0M642.6 114.5h0M642.6 119.8h0M642.6 125.2h0M642.6 130.6h0M642.6 136.0h0M642.6 141.4h0M642.6 146.7h0M642.6 152.1h0M647.3 9.5h0M647.3 14.9h0M647.3 20.3h0M647.3 25.7h0M647.3 31.1h0M647.3 36.4h0M647.3 41.8h0M647.3 47.2h0M647.3 52.6h0M647.3 58.0h0M647.3 63.3h0M647.3 68.7h0M647.3 74.1h0M647.3 79.5h0M647.3 84.9h0M647.3 90.2h0M647.3 95.6h0M647.3 101.0h0M647.3 106.4h0M647.3 111.8h0M647.3 117.1h0M647.3 122.5h0M647.3 127.9h0M647.3 133.3h0M647.3 138.7h0M647.3 144.1h0M647.3 149.4h0M647.3 154.8h0M651.9 12.2h0M651.9 17.6h0M651.9 23.0h0M651.9 28.4h0M651.9 33.8h0M651.9 39.1h0M651.9 44.5h0M651.9 49.9h0M651.9 55.3h0M651.9 60.7h0M651.9 66.0h0M651.9 71.4h0M651.9 76.8h0M651.9 82.2h0M651.9 87.6h0M651.9 92.9h0M651.9 98.3h0M651.9 103.7h0M651.9 109.1h0M651.9 114.5h0M651.9 119.8h0M651.9 125.2h0M651.9 130.6h0M651.9 136.0h0M651.9 141.4h0M651.9 146.7h0M651.9 152.1h0M656.6 9.5h0M656.6 14.9h0M656.6 20.3h0M656.6 25.7h0M656.6 31.1h0M656.6 36.4h0M656.6 41.8h0M656.6 47.2h0M656.6 52.6h0M656.6 58.0h0M656.6 63.3h0M656.6 68.7h0M656.6 74.1h0M656.6 79.5h0M656.6 84.9h0M656.6 90.2h0M656.6 95.6h0M656.6 101.0h0M656.6 106.4h0M656.6 111.8h0M656.6 117.1h0M656.6 122.5h0M656.6 127.9h0M656.6 133.3h0M656.6 138.7h0M656.6 144.1h0M656.6 149.4h0M656.6 154.8h0M661.3 12.2h0M661.3 17.6h0M661.3 23.0h0M661.3 28.4h0M661.3 33.8h0M661.3 39.1h0M661.3 44.5h0M661.3 49.9h0M661.3 55.3h0M661.3 60.7h0M661.3 66.0h0M661.3 71.4h0M661.3 76.8h0M661.3 82.2h0M661.3 87.6h0M661.3 92.9h0M661.3 98.3h0M661.3 103.7h0M661.3 109.1h0M661.3 114.5h0M661.3 119.8h0M661.3 125.2h0M661.3 130.6h0M661.3 136.0h0M661.3 141.4h0M661.3 146.7h0M661.3 152.1h0M665.9 9.5h0M665.9 14.9h0M665.9 20.3h0M665.9 25.7h0M665.9 31.1h0M665.9 36.4h0M665.9 41.8h0M665.9 47.2h0M665.9 52.6h0M665.9 58.0h0M665.9 63.3h0M665.9 68.7h0M665.9 74.1h0M665.9 79.5h0M665.9 84.9h0M665.9 90.2h0M665.9 95.6h0M665.9 101.0h0M665.9 106.4h0M665.9 111.8h0M665.9 117.1h0M665.9 122.5h0M665.9 127.9h0M665.9 133.3h0M665.9 138.7h0M665.9 144.1h0M665.9 149.4h0M665.9 154.8h0M670.6 12.2h0M670.6 17.6h0M670.6 23.0h0M670.6 28.4h0M670.6 33.8h0M670.6 39.1h0M670.6 44.5h0M670.6 49.9h0M670.6 55.3h0M670.6 60.7h0M670.6 66.0h0M670.6 71.4h0M670.6 76.8h0M670.6 82.2h0M670.6 87.6h0M670.6 92.9h0M670.6 98.3h0M670.6 103.7h0M670.6 109.1h0M670.6 114.5h0M670.6 119.8h0M670.6 125.2h0M670.6 130.6h0M670.6 136.0h0M670.6 141.4h0M670.6 146.7h0M670.6 152.1h0M675.3 9.5h0M675.3 14.9h0M675.3 20.3h0M675.3 25.7h0M675.3 31.1h0M675.3 36.4h0M675.3 41.8h0M675.3 47.2h0M675.3 52.6h0M675.3 58.0h0M675.3 63.3h0M675.3 68.7h0M675.3 74.1h0M675.3 79.5h0M675.3 84.9h0M675.3 90.2h0M675.3 95.6h0M675.3 101.0h0M675.3 106.4h0M675.3 111.8h0M675.3 117.1h0M675.3 122.5h0M675.3 127.9h0M675.3 133.3h0M675.3 138.7h0M675.3 144.1h0M675.3 149.4h0M675.3 154.8h0M680.0 55.3h0M680.0 60.7h0M680.0 82.2h0M680.0 87.6h0M680.0 109.1h0M680.0 114.5h0M680.0 136.0h0M680.0 141.4h0"/></defs><use href="#pb3" stroke="#fbdccb" stroke-width="5.5"/><use href="#pb3" stroke="#f3b092" stroke-width="4.4"/></g>
<path clip-path="url(#cb3)" stroke="#000" stroke-width="5.0" stroke-linecap="round" fill="none" d="M637.9 25.7h0M637.9 31.1h0M637.9 36.4h0M637.9 52.6h0M637.9 58.0h0M637.9 63.3h0M637.9 79.5h0M637.9 84.9h0M637.9 90.2h0M637.9 106.4h0M637.9 111.8h0M637.9 117.1h0M637.9 133.3h0M637.9 138.7h0M637.9 144.1h0M642.6 28.4h0M642.6 33.8h0M642.6 55.3h0M642.6 60.7h0M642.6 82.2h0M642.6 87.6h0M642.6 109.1h0M642.6 114.5h0M642.6 136.0h0M642.6 141.4h0M656.6 47.2h0M656.6 68.7h0M656.6 74.1h0M656.6 101.0h0M656.6 122.5h0M656.6 127.9h0M670.6 28.4h0M670.6 60.7h0M670.6 87.6h0M670.6 109.1h0M670.6 136.0h0"/>
<rect x="583.4" y="12" width="100.6" height="140.6" fill="none" stroke="#000" stroke-width="2" rx="1.5"/>
<clipPath id="ce0"><rect x="43.7" y="500.5" width="98.7" height="139"/></clipPath>
<g clip-path="url(#ce0)" stroke-linecap="round" fill="none"><defs><path id="pe0" d="M46.2 548.5h0M46.2 553.8h0M46.2 559.2h0M46.2 607.6h0M46.2 613.0h0M46.2 618.4h0M46.2 623.8h0M50.8 497.4h0M50.8 502.7h0M50.8 508.1h0M50.8 513.5h0M50.8 518.9h0M50.8 524.3h0M50.8 529.6h0M50.8 535.0h0M50.8 540.4h0M50.8 551.2h0M50.8 556.5h0M50.8 561.9h0M50.8 567.3h0M50.8 572.7h0M50.8 578.1h0M50.8 583.4h0M50.8 588.8h0M50.8 594.2h0M50.8 599.6h0M50.8 605.0h0M50.8 610.3h0M50.8 615.7h0M50.8 621.1h0M50.8 626.5h0M50.8 631.9h0M50.8 637.2h0M50.8 642.6h0M55.5 500.0h0M55.5 505.4h0M55.5 510.8h0M55.5 516.2h0M55.5 521.6h0M55.5 526.9h0M55.5 532.3h0M55.5 537.7h0M55.5 543.1h0M55.5 548.5h0M55.5 553.8h0M55.5 559.2h0M55.5 564.6h0M55.5 570.0h0M55.5 575.4h0M55.5 580.7h0M55.5 586.1h0M55.5 591.5h0M55.5 596.9h0M55.5 602.3h0M55.5 607.6h0M55.5 613.0h0M55.5 618.4h0M55.5 623.8h0M55.5 629.2h0M55.5 634.5h0M55.5 639.9h0M60.2 497.4h0M60.2 502.7h0M60.2 508.1h0M60.2 513.5h0M60.2 518.9h0M60.2 524.3h0M60.2 529.6h0M60.2 535.0h0M60.2 540.4h0M60.2 545.8h0M60.2 551.2h0M60.2 556.5h0M60.2 561.9h0M60.2 567.3h0M60.2 572.7h0M60.2 578.1h0M60.2 583.4h0M60.2 588.8h0M60.2 594.2h0M60.2 599.6h0M60.2 605.0h0M60.2 610.3h0M60.2 615.7h0M60.2 621.1h0M60.2 626.5h0M60.2 631.9h0M60.2 637.2h0M60.2 642.6h0M64.8 500.0h0M64.8 505.4h0M64.8 510.8h0M64.8 516.2h0M64.8 521.6h0M64.8 526.9h0M64.8 532.3h0M64.8 537.7h0M64.8 543.1h0M64.8 548.5h0M64.8 553.8h0M64.8 559.2h0M64.8 564.6h0M64.8 570.0h0M64.8 575.4h0M64.8 580.7h0M64.8 586.1h0M64.8 591.5h0M64.8 596.9h0M64.8 602.3h0M64.8 607.6h0M64.8 613.0h0M64.8 618.4h0M64.8 623.8h0M64.8 629.2h0M64.8 634.5h0M64.8 639.9h0M69.5 497.4h0M69.5 502.7h0M69.5 508.1h0M69.5 513.5h0M69.5 518.9h0M69.5 524.3h0M69.5 529.6h0M69.5 535.0h0M69.5 540.4h0M69.5 545.8h0M69.5 551.2h0M69.5 556.5h0M69.5 561.9h0M69.5 567.3h0M69.5 572.7h0M69.5 578.1h0M69.5 583.4h0M69.5 588.8h0M69.5 594.2h0M69.5 599.6h0M69.5 605.0h0M69.5 610.3h0M69.5 615.7h0M69.5 621.1h0M69.5 626.5h0M69.5 631.9h0M69.5 637.2h0M69.5 642.6h0M74.2 500.0h0M74.2 505.4h0M74.2 510.8h0M74.2 516.2h0M74.2 521.6h0M74.2 526.9h0M74.2 532.3h0M74.2 537.7h0M74.2 543.1h0M74.2 548.5h0M74.2 553.8h0M74.2 559.2h0M74.2 564.6h0M74.2 570.0h0M74.2 575.4h0M74.2 580.7h0M74.2 586.1h0M74.2 591.5h0M74.2 596.9h0M74.2 602.3h0M74.2 607.6h0M74.2 613.0h0M74.2 618.4h0M74.2 623.8h0M74.2 629.2h0M74.2 634.5h0M74.2 639.9h0M78.8 497.4h0M78.8 502.7h0M78.8 508.1h0M78.8 513.5h0M78.8 518.9h0M78.8 524.3h0M78.8 529.6h0M78.8 535.0h0M78.8 540.4h0M78.8 545.8h0M78.8 551.2h0M78.8 556.5h0M78.8 561.9h0M78.8 567.3h0M78.8 572.7h0M78.8 578.1h0M78.8 583.4h0M78.8 588.8h0M78.8 594.2h0M78.8 599.6h0M78.8 605.0h0M78.8 610.3h0M78.8 615.7h0M78.8 621.1h0M78.8 626.5h0M78.8 631.9h0M78.8 637.2h0M78.8 642.6h0M83.5 500.0h0M83.5 505.4h0M83.5 510.8h0M83.5 516.2h0M83.5 521.6h0M83.5 526.9h0M83.5 532.3h0M83.5 537.7h0M83.5 543.1h0M83.5 548.5h0M83.5 553.8h0M83.5 559.2h0M83.5 564.6h0M83.5 570.0h0M83.5 575.4h0M83.5 580.7h0M83.5 586.1h0M83.5 591.5h0M83.5 596.9h0M83.5 602.3h0M83.5 607.6h0M83.5 613.0h0M83.5 618.4h0M83.5 623.8h0M83.5 629.2h0M83.5 634.5h0M83.5 639.9h0M88.2 497.4h0M88.2 502.7h0M88.2 508.1h0M88.2 513.5h0M88.2 518.9h0M88.2 524.3h0M88.2 529.6h0M88.2 535.0h0M88.2 540.4h0M88.2 545.8h0M88.2 551.2h0M88.2 556.5h0M88.2 561.9h0M88.2 567.3h0M88.2 572.7h0M88.2 578.1h0M88.2 583.4h0M88.2 588.8h0M88.2 594.2h0M88.2 599.6h0M88.2 605.0h0M88.2 610.3h0M88.2 615.7h0M88.2 621.1h0M88.2 626.5h0M88.2 631.9h0M88.2 637.2h0M88.2 642.6h0M92.9 500.0h0M92.9 505.4h0M92.9 510.8h0M92.9 516.2h0M92.9 521.6h0M92.9 526.9h0M92.9 532.3h0M92.9 537.7h0M92.9 543.1h0M92.9 548.5h0M92.9 553.8h0M92.9 559.2h0M92.9 564.6h0M92.9 570.0h0M92.9 575.4h0M92.9 580.7h0M92.9 586.1h0M92.9 591.5h0M92.9 596.9h0M92.9 602.3h0M92.9 607.6h0M92.9 613.0h0M92.9 618.4h0M92.9 623.8h0M92.9 629.2h0M92.9 634.5h0M92.9 639.9h0M97.5 497.4h0M97.5 502.7h0M97.5 508.1h0M97.5 513.5h0M97.5 518.9h0M97.5 524.3h0M97.5 529.6h0M97.5 535.0h0M97.5 540.4h0M97.5 545.8h0M97.5 551.2h0M97.5 556.5h0M97.5 561.9h0M97.5 567.3h0M97.5 572.7h0M97.5 578.1h0M97.5 583.4h0M97.5 588.8h0M97.5 594.2h0M97.5 599.6h0M97.5 605.0h0M97.5 610.3h0M97.5 615.7h0M97.5 621.1h0M97.5 626.5h0M97.5 631.9h0M97.5 637.2h0M97.5 642.6h0M102.2 500.0h0M102.2 505.4h0M102.2 510.8h0M102.2 516.2h0M102.2 521.6h0M102.2 526.9h0M102.2 532.3h0M102.2 537.7h0M102.2 543.1h0M102.2 548.5h0M102.2 553.8h0M102.2 559.2h0M102.2 564.6h0M102.2 570.0h0M102.2 575.4h0M102.2 580.7h0M102.2 586.1h0M102.2 591.5h0M102.2 596.9h0M102.2 602.3h0M102.2 607.6h0M102.2 613.0h0M102.2 618.4h0M102.2 623.8h0M102.2 629.2h0M102.2 634.5h0M102.2 639.9h0M106.9 497.4h0M106.9 502.7h0M106.9 508.1h0M106.9 513.5h0M106.9 518.9h0M106.9 524.3h0M106.9 529.6h0M106.9 535.0h0M106.9 540.4h0M106.9 545.8h0M106.9 551.2h0M106.9 556.5h0M106.9 561.9h0M106.9 567.3h0M106.9 572.7h0M106.9 578.1h0M106.9 583.4h0M106.9 588.8h0M106.9 594.2h0M106.9 599.6h0M106.9 605.0h0M106.9 610.3h0M106.9 615.7h0M106.9 621.1h0M106.9 626.5h0M106.9 631.9h0M106.9 637.2h0M106.9 642.6h0M111.5 500.0h0M111.5 505.4h0M111.5 510.8h0M111.5 516.2h0M111.5 521.6h0M111.5 526.9h0M111.5 532.3h0M111.5 537.7h0M111.5 543.1h0M111.5 548.5h0M111.5 553.8h0M111.5 559.2h0M111.5 564.6h0M111.5 570.0h0M111.5 575.4h0M111.5 580.7h0M111.5 586.1h0M111.5 591.5h0M111.5 596.9h0M111.5 602.3h0M111.5 607.6h0M111.5 613.0h0M111.5 618.4h0M111.5 623.8h0M111.5 629.2h0M111.5 634.5h0M111.5 639.9h0M116.2 497.4h0M116.2 502.7h0M116.2 508.1h0M116.2 513.5h0M116.2 518.9h0M116.2 524.3h0M116.2 529.6h0M116.2 535.0h0M116.2 540.4h0M116.2 545.8h0M116.2 551.2h0M116.2 556.5h0M116.2 561.9h0M116.2 567.3h0M116.2 572.7h0M116.2 578.1h0M116.2 583.4h0M116.2 588.8h0M116.2 594.2h0M116.2 599.6h0M116.2 605.0h0M116.2 610.3h0M116.2 615.7h0M116.2 621.1h0M116.2 626.5h0M116.2 631.9h0M116.2 637.2h0M116.2 642.6h0M120.9 500.0h0M120.9 505.4h0M120.9 510.8h0M120.9 516.2h0M120.9 521.6h0M120.9 526.9h0M120.9 532.3h0M120.9 537.7h0M120.9 543.1h0M120.9 548.5h0M120.9 553.8h0M120.9 559.2h0M120.9 564.6h0M120.9 570.0h0M120.9 575.4h0M120.9 580.7h0M120.9 586.1h0M120.9 591.5h0M120.9 596.9h0M120.9 602.3h0M120.9 607.6h0M120.9 613.0h0M120.9 618.4h0M120.9 623.8h0M120.9 629.2h0M120.9 634.5h0M120.9 639.9h0M125.5 497.4h0M125.5 502.7h0M125.5 508.1h0M125.5 513.5h0M125.5 518.9h0M125.5 524.3h0M125.5 529.6h0M125.5 535.0h0M125.5 540.4h0M125.5 545.8h0M125.5 551.2h0M125.5 556.5h0M125.5 561.9h0M125.5 567.3h0M125.5 572.7h0M125.5 578.1h0M125.5 583.4h0M125.5 588.8h0M125.5 594.2h0M125.5 599.6h0M125.5 605.0h0M125.5 610.3h0M125.5 615.7h0M125.5 621.1h0M125.5 626.5h0M125.5 631.9h0M125.5 637.2h0M125.5 642.6h0M130.2 500.0h0M130.2 505.4h0M130.2 510.8h0M130.2 516.2h0M130.2 521.6h0M130.2 526.9h0M130.2 532.3h0M130.2 537.7h0M130.2 543.1h0M130.2 548.5h0M130.2 553.8h0M130.2 559.2h0M130.2 564.6h0M130.2 570.0h0M130.2 575.4h0M130.2 580.7h0M130.2 586.1h0M130.2 591.5h0M130.2 596.9h0M130.2 602.3h0M130.2 607.6h0M130.2 613.0h0M130.2 618.4h0M130.2 623.8h0M130.2 629.2h0M130.2 634.5h0M130.2 639.9h0M134.9 497.4h0M134.9 502.7h0M134.9 508.1h0M134.9 513.5h0M134.9 518.9h0M134.9 524.3h0M134.9 529.6h0M134.9 535.0h0M134.9 540.4h0M134.9 545.8h0M134.9 551.2h0M134.9 556.5h0M134.9 561.9h0M134.9 567.3h0M134.9 572.7h0M134.9 578.1h0M134.9 583.4h0M134.9 588.8h0M134.9 594.2h0M134.9 599.6h0M134.9 605.0h0M134.9 610.3h0M134.9 615.7h0M134.9 621.1h0M134.9 626.5h0M134.9 631.9h0M134.9 637.2h0M134.9 642.6h0M139.6 543.1h0M139.6 548.5h0M139.6 564.6h0M139.6 570.0h0M139.6 596.9h0M139.6 623.8h0M139.6 629.2h0"/></defs><use href="#pe0" stroke="#fbdccb" stroke-width="5.5"/><use href="#pe0" stroke="#f3b092" stroke-width="4.4"/></g>
<path clip-path="url(#ce0)" stroke="#000" stroke-width="5.0" stroke-linecap="round" fill="none" d="M83.5 548.5h0M83.5 553.8h0M92.9 505.4h0M92.9 543.1h0M97.5 513.5h0M97.5 518.9h0M97.5 529.6h0M97.5 556.5h0M97.5 561.9h0M97.5 583.4h0M97.5 588.8h0M97.5 610.3h0M106.9 524.3h0M106.9 540.4h0M106.9 551.2h0M106.9 567.3h0M106.9 578.1h0M106.9 594.2h0M106.9 599.6h0M106.9 621.1h0M106.9 631.9h0M116.2 529.6h0M116.2 535.0h0M116.2 556.5h0M116.2 561.9h0M116.2 583.4h0M116.2 588.8h0M116.2 610.3h0M116.2 615.7h0M130.2 516.2h0M130.2 521.6h0M130.2 543.1h0M130.2 575.4h0M130.2 596.9h0M130.2 602.3h0M130.2 623.8h0M55.5 510.8h0M55.5 516.2h0M55.5 521.6h0M55.5 526.9h0M55.5 532.3h0M55.5 537.7h0M55.5 559.2h0M55.5 564.6h0M55.5 570.0h0M55.5 575.4h0M55.5 580.7h0M55.5 586.1h0M55.5 591.5h0M55.5 596.9h0M55.5 602.3h0M55.5 607.6h0M55.5 613.0h0M55.5 618.4h0M55.5 623.8h0M55.5 629.2h0M60.2 513.5h0M60.2 518.9h0M60.2 524.3h0M60.2 529.6h0M60.2 535.0h0M60.2 578.1h0M60.2 583.4h0M60.2 588.8h0M60.2 594.2h0M60.2 599.6h0M60.2 605.0h0M60.2 610.3h0M60.2 615.7h0M60.2 621.1h0M60.2 626.5h0M60.2 631.9h0M64.8 548.5h0M64.8 553.8h0M64.8 575.4h0M64.8 580.7h0M64.8 586.1h0M64.8 591.5h0M64.8 596.9h0M74.2 510.8h0M74.2 516.2h0M74.2 526.9h0M74.2 532.3h0M74.2 543.1h0M74.2 559.2h0M74.2 570.0h0M74.2 602.3h0M74.2 607.6h0M74.2 618.4h0M74.2 629.2h0M78.8 583.4h0M78.8 588.8h0M88.2 529.6h0M88.2 535.0h0M88.2 567.3h0M88.2 578.1h0M88.2 594.2h0M88.2 605.0h0M88.2 615.7h0M88.2 621.1h0M88.2 631.9h0"/>
<rect x="42.7" y="499.5" width="100.7" height="141" fill="none" stroke="#000" stroke-width="2" rx="1.5"/>
<clipPath id="ce1"><rect x="160.6" y="500.5" width="98.7" height="139"/></clipPath>
<g clip-path="url(#ce1)" stroke-linecap="round" fill="none"><defs><path id="pe1" d="M163.1 548.5h0M163.1 553.8h0M163.1 559.2h0M163.1 564.6h0M163.1 570.0h0M167.7 497.4h0M167.7 502.7h0M167.7 508.1h0M167.7 513.5h0M167.7 518.9h0M167.7 535.0h0M167.7 551.2h0M167.7 556.5h0M167.7 561.9h0M167.7 567.3h0M167.7 610.3h0M167.7 615.7h0M167.7 621.1h0M167.7 626.5h0M167.7 631.9h0M167.7 637.2h0M167.7 642.6h0M172.4 500.0h0M172.4 505.4h0M172.4 510.8h0M172.4 516.2h0M172.4 521.6h0M172.4 526.9h0M172.4 532.3h0M172.4 537.7h0M172.4 543.1h0M172.4 548.5h0M172.4 553.8h0M172.4 559.2h0M172.4 564.6h0M172.4 570.0h0M172.4 575.4h0M172.4 580.7h0M172.4 586.1h0M172.4 591.5h0M172.4 596.9h0M172.4 602.3h0M172.4 607.6h0M172.4 613.0h0M172.4 618.4h0M172.4 623.8h0M172.4 629.2h0M172.4 634.5h0M172.4 639.9h0M177.1 497.4h0M177.1 502.7h0M177.1 508.1h0M177.1 513.5h0M177.1 518.9h0M177.1 524.3h0M177.1 529.6h0M177.1 535.0h0M177.1 540.4h0M177.1 545.8h0M177.1 551.2h0M177.1 556.5h0M177.1 561.9h0M177.1 567.3h0M177.1 572.7h0M177.1 578.1h0M177.1 583.4h0M177.1 588.8h0M177.1 594.2h0M177.1 599.6h0M177.1 605.0h0M177.1 610.3h0M177.1 615.7h0M177.1 621.1h0M177.1 626.5h0M177.1 631.9h0M177.1 637.2h0M177.1 642.6h0M181.7 500.0h0M181.7 505.4h0M181.7 510.8h0M181.7 516.2h0M181.7 521.6h0M181.7 526.9h0M181.7 532.3h0M181.7 537.7h0M181.7 543.1h0M181.7 548.5h0M181.7 553.8h0M181.7 559.2h0M181.7 564.6h0M181.7 570.0h0M181.7 575.4h0M181.7 580.7h0M181.7 586.1h0M181.7 591.5h0M181.7 596.9h0M181.7 602.3h0M181.7 607.6h0M181.7 613.0h0M181.7 618.4h0M181.7 623.8h0M181.7 629.2h0M181.7 634.5h0M181.7 639.9h0M186.4 497.4h0M186.4 502.7h0M186.4 508.1h0M186.4 513.5h0M186.4 518.9h0M186.4 524.3h0M186.4 529.6h0M186.4 535.0h0M186.4 540.4h0M186.4 545.8h0M186.4 551.2h0M186.4 556.5h0M186.4 561.9h0M186.4 567.3h0M186.4 572.7h0M186.4 578.1h0M186.4 583.4h0M186.4 588.8h0M186.4 594.2h0M186.4 599.6h0M186.4 605.0h0M186.4 610.3h0M186.4 615.7h0M186.4 621.1h0M186.4 626.5h0M186.4 631.9h0M186.4 637.2h0M186.4 642.6h0M191.1 500.0h0M191.1 505.4h0M191.1 510.8h0M191.1 516.2h0M191.1 521.6h0M191.1 526.9h0M191.1 532.3h0M191.1 537.7h0M191.1 543.1h0M191.1 548.5h0M191.1 553.8h0M191.1 559.2h0M191.1 564.6h0M191.1 570.0h0M191.1 575.4h0M191.1 580.7h0M191.1 586.1h0M191.1 591.5h0M191.1 596.9h0M191.1 602.3h0M191.1 607.6h0M191.1 613.0h0M191.1 618.4h0M191.1 623.8h0M191.1 629.2h0M191.1 634.5h0M191.1 639.9h0M195.8 497.4h0M195.8 502.7h0M195.8 508.1h0M195.8 513.5h0M195.8 518.9h0M195.8 524.3h0M195.8 529.6h0M195.8 535.0h0M195.8 540.4h0M195.8 545.8h0M195.8 551.2h0M195.8 556.5h0M195.8 561.9h0M195.8 567.3h0M195.8 572.7h0M195.8 578.1h0M195.8 583.4h0M195.8 588.8h0M195.8 594.2h0M195.8 599.6h0M195.8 605.0h0M195.8 610.3h0M195.8 615.7h0M195.8 621.1h0M195.8 626.5h0M195.8 631.9h0M195.8 637.2h0M195.8 642.6h0M200.4 500.0h0M200.4 505.4h0M200.4 510.8h0M200.4 516.2h0M200.4 521.6h0M200.4 526.9h0M200.4 532.3h0M200.4 537.7h0M200.4 543.1h0M200.4 548.5h0M200.4 553.8h0M200.4 559.2h0M200.4 564.6h0M200.4 570.0h0M200.4 575.4h0M200.4 580.7h0M200.4 586.1h0M200.4 591.5h0M200.4 596.9h0M200.4 602.3h0M200.4 607.6h0M200.4 613.0h0M200.4 618.4h0M200.4 623.8h0M200.4 629.2h0M200.4 634.5h0M200.4 639.9h0M205.1 497.4h0M205.1 502.7h0M205.1 508.1h0M205.1 513.5h0M205.1 518.9h0M205.1 524.3h0M205.1 529.6h0M205.1 535.0h0M205.1 540.4h0M205.1 545.8h0M205.1 551.2h0M205.1 556.5h0M205.1 561.9h0M205.1 567.3h0M205.1 572.7h0M205.1 578.1h0M205.1 583.4h0M205.1 588.8h0M205.1 594.2h0M205.1 599.6h0M205.1 605.0h0M205.1 610.3h0M205.1 615.7h0M205.1 621.1h0M205.1 626.5h0M205.1 631.9h0M205.1 637.2h0M205.1 642.6h0M209.8 500.0h0M209.8 505.4h0M209.8 510.8h0M209.8 516.2h0M209.8 521.6h0M209.8 526.9h0M209.8 532.3h0M209.8 537.7h0M209.8 543.1h0M209.8 548.5h0M209.8 553.8h0M209.8 559.2h0M209.8 564.6h0M209.8 570.0h0M209.8 575.4h0M209.8 580.7h0M209.8 586.1h0M209.8 591.5h0M209.8 596.9h0M209.8 602.3h0M209.8 607.6h0M209.8 613.0h0M209.8 618.4h0M209.8 623.8h0M209.8 629.2h0M209.8 634.5h0M209.8 639.9h0M214.4 497.4h0M214.4 502.7h0M214.4 508.1h0M214.4 513.5h0M214.4 518.9h0M214.4 524.3h0M214.4 529.6h0M214.4 535.0h0M214.4 540.4h0M214.4 545.8h0M214.4 551.2h0M214.4 556.5h0M214.4 561.9h0M214.4 567.3h0M214.4 572.7h0M214.4 578.1h0M214.4 583.4h0M214.4 588.8h0M214.4 594.2h0M214.4 599.6h0M214.4 605.0h0M214.4 610.3h0M214.4 615.7h0M214.4 621.1h0M214.4 626.5h0M214.4 631.9h0M214.4 637.2h0M214.4 642.6h0M219.1 500.0h0M219.1 505.4h0M219.1 510.8h0M219.1 516.2h0M219.1 521.6h0M219.1 526.9h0M219.1 532.3h0M219.1 537.7h0M219.1 543.1h0M219.1 548.5h0M219.1 553.8h0M219.1 559.2h0M219.1 564.6h0M219.1 570.0h0M219.1 575.4h0M219.1 580.7h0M219.1 586.1h0M219.1 591.5h0M219.1 596.9h0M219.1 602.3h0M219.1 607.6h0M219.1 613.0h0M219.1 618.4h0M219.1 623.8h0M219.1 629.2h0M219.1 634.5h0M219.1 639.9h0M223.8 497.4h0M223.8 502.7h0M223.8 508.1h0M223.8 513.5h0M223.8 518.9h0M223.8 524.3h0M223.8 529.6h0M223.8 535.0h0M223.8 540.4h0M223.8 545.8h0M223.8 551.2h0M223.8 556.5h0M223.8 561.9h0M223.8 567.3h0M223.8 572.7h0M223.8 578.1h0M223.8 583.4h0M223.8 588.8h0M223.8 594.2h0M223.8 599.6h0M223.8 605.0h0M223.8 610.3h0M223.8 615.7h0M223.8 621.1h0M223.8 626.5h0M223.8 631.9h0M223.8 637.2h0M223.8 642.6h0M228.4 500.0h0M228.4 505.4h0M228.4 510.8h0M228.4 516.2h0M228.4 521.6h0M228.4 526.9h0M228.4 532.3h0M228.4 537.7h0M228.4 543.1h0M228.4 548.5h0M228.4 553.8h0M228.4 559.2h0M228.4 564.6h0M228.4 570.0h0M228.4 575.4h0M228.4 580.7h0M228.4 586.1h0M228.4 591.5h0M228.4 596.9h0M228.4 602.3h0M228.4 607.6h0M228.4 613.0h0M228.4 618.4h0M228.4 623.8h0M228.4 629.2h0M228.4 634.5h0M228.4 639.9h0M233.1 497.4h0M233.1 502.7h0M233.1 508.1h0M233.1 513.5h0M233.1 518.9h0M233.1 524.3h0M233.1 529.6h0M233.1 535.0h0M233.1 540.4h0M233.1 545.8h0M233.1 551.2h0M233.1 556.5h0M233.1 561.9h0M233.1 567.3h0M233.1 572.7h0M233.1 578.1h0M233.1 583.4h0M233.1 588.8h0M233.1 594.2h0M233.1 599.6h0M233.1 605.0h0M233.1 610.3h0M233.1 615.7h0M233.1 621.1h0M233.1 626.5h0M233.1 631.9h0M233.1 637.2h0M233.1 642.6h0M237.8 500.0h0M237.8 505.4h0M237.8 510.8h0M237.8 516.2h0M237.8 521.6h0M237.8 526.9h0M237.8 532.3h0M237.8 537.7h0M237.8 543.1h0M237.8 548.5h0M237.8 553.8h0M237.8 559.2h0M237.8 564.6h0M237.8 570.0h0M237.8 575.4h0M237.8 580.7h0M237.8 586.1h0M237.8 591.5h0M237.8 596.9h0M237.8 602.3h0M237.8 607.6h0M237.8 613.0h0M237.8 618.4h0M237.8 623.8h0M237.8 629.2h0M237.8 634.5h0M237.8 639.9h0M242.4 497.4h0M242.4 502.7h0M242.4 508.1h0M242.4 513.5h0M242.4 518.9h0M242.4 524.3h0M242.4 529.6h0M242.4 535.0h0M242.4 540.4h0M242.4 545.8h0M242.4 551.2h0M242.4 556.5h0M242.4 561.9h0M242.4 567.3h0M242.4 572.7h0M242.4 578.1h0M242.4 583.4h0M242.4 588.8h0M242.4 594.2h0M242.4 599.6h0M242.4 605.0h0M242.4 610.3h0M242.4 615.7h0M242.4 621.1h0M242.4 626.5h0M242.4 631.9h0M242.4 637.2h0M242.4 642.6h0M247.1 500.0h0M247.1 505.4h0M247.1 510.8h0M247.1 516.2h0M247.1 521.6h0M247.1 526.9h0M247.1 532.3h0M247.1 537.7h0M247.1 543.1h0M247.1 548.5h0M247.1 553.8h0M247.1 559.2h0M247.1 564.6h0M247.1 570.0h0M247.1 575.4h0M247.1 580.7h0M247.1 586.1h0M247.1 591.5h0M247.1 596.9h0M247.1 602.3h0M247.1 607.6h0M247.1 613.0h0M247.1 618.4h0M247.1 623.8h0M247.1 629.2h0M247.1 634.5h0M247.1 639.9h0M251.8 497.4h0M251.8 502.7h0M251.8 508.1h0M251.8 513.5h0M251.8 518.9h0M251.8 524.3h0M251.8 529.6h0M251.8 535.0h0M251.8 540.4h0M251.8 545.8h0M251.8 551.2h0M251.8 556.5h0M251.8 561.9h0M251.8 567.3h0M251.8 572.7h0M251.8 578.1h0M251.8 583.4h0M251.8 588.8h0M251.8 594.2h0M251.8 599.6h0M251.8 605.0h0M251.8 610.3h0M251.8 615.7h0M251.8 621.1h0M251.8 626.5h0M251.8 631.9h0M251.8 637.2h0M251.8 642.6h0M256.5 543.1h0M256.5 548.5h0M256.5 564.6h0M256.5 570.0h0M256.5 596.9h0M256.5 623.8h0M256.5 629.2h0"/></defs><use href="#pe1" stroke="#fbdccb" stroke-width="5.5"/><use href="#pe1" stroke="#f3b092" stroke-width="4.4"/></g>
<path clip-path="url(#ce1)" stroke="#000" stroke-width="5.0" stroke-linecap="round" fill="none" d="M200.4 548.5h0M200.4 553.8h0M209.8 505.4h0M209.8 543.1h0M214.4 513.5h0M214.4 518.9h0M214.4 529.6h0M214.4 556.5h0M214.4 561.9h0M214.4 583.4h0M214.4 588.8h0M214.4 610.3h0M223.8 524.3h0M223.8 540.4h0M223.8 551.2h0M223.8 567.3h0M223.8 578.1h0M223.8 594.2h0M223.8 599.6h0M223.8 621.1h0M223.8 631.9h0M233.1 529.6h0M233.1 535.0h0M233.1 556.5h0M233.1 561.9h0M233.1 583.4h0M233.1 588.8h0M233.1 610.3h0M233.1 615.7h0M247.1 516.2h0M247.1 521.6h0M247.1 543.1h0M247.1 575.4h0M247.1 596.9h0M247.1 602.3h0M247.1 623.8h0M191.1 510.8h0M191.1 516.2h0M191.1 521.6h0M191.1 526.9h0M191.1 532.3h0M191.1 537.7h0M191.1 543.1h0M191.1 559.2h0M191.1 564.6h0M191.1 570.0h0M191.1 602.3h0M191.1 607.6h0M191.1 613.0h0M191.1 618.4h0M191.1 623.8h0M191.1 629.2h0M195.8 583.4h0M195.8 588.8h0M205.1 529.6h0M205.1 535.0h0M205.1 567.3h0M205.1 578.1h0M205.1 594.2h0M205.1 605.0h0M205.1 615.7h0M205.1 621.1h0M205.1 631.9h0"/>
<rect x="159.6" y="499.5" width="100.7" height="141" fill="none" stroke="#000" stroke-width="2" rx="1.5"/>
<clipPath id="ce2"><rect x="277.3" y="500.5" width="98.7" height="139"/></clipPath>
<g clip-path="url(#ce2)" stroke-linecap="round" fill="none"><defs><path id="pe2" d="M279.8 548.5h0M279.8 553.8h0M279.8 559.2h0M279.8 564.6h0M279.8 570.0h0M284.4 497.4h0M284.4 502.7h0M284.4 508.1h0M284.4 513.5h0M284.4 518.9h0M284.4 535.0h0M284.4 551.2h0M284.4 556.5h0M284.4 561.9h0M284.4 567.3h0M284.4 610.3h0M284.4 615.7h0M284.4 621.1h0M284.4 626.5h0M284.4 631.9h0M284.4 637.2h0M284.4 642.6h0M289.1 500.0h0M289.1 505.4h0M289.1 510.8h0M289.1 516.2h0M289.1 521.6h0M289.1 526.9h0M289.1 532.3h0M289.1 537.7h0M289.1 543.1h0M289.1 548.5h0M289.1 553.8h0M289.1 559.2h0M289.1 564.6h0M289.1 570.0h0M289.1 575.4h0M289.1 580.7h0M289.1 586.1h0M289.1 591.5h0M289.1 596.9h0M289.1 602.3h0M289.1 607.6h0M289.1 613.0h0M289.1 618.4h0M289.1 623.8h0M289.1 629.2h0M289.1 634.5h0M289.1 639.9h0M293.8 497.4h0M293.8 502.7h0M293.8 508.1h0M293.8 513.5h0M293.8 518.9h0M293.8 524.3h0M293.8 529.6h0M293.8 535.0h0M293.8 540.4h0M293.8 545.8h0M293.8 551.2h0M293.8 556.5h0M293.8 561.9h0M293.8 567.3h0M293.8 572.7h0M293.8 578.1h0M293.8 583.4h0M293.8 588.8h0M293.8 594.2h0M293.8 599.6h0M293.8 605.0h0M293.8 610.3h0M293.8 615.7h0M293.8 621.1h0M293.8 626.5h0M293.8 631.9h0M293.8 637.2h0M293.8 642.6h0M298.4 500.0h0M298.4 505.4h0M298.4 510.8h0M298.4 516.2h0M298.4 521.6h0M298.4 526.9h0M298.4 532.3h0M298.4 537.7h0M298.4 543.1h0M298.4 548.5h0M298.4 553.8h0M298.4 559.2h0M298.4 564.6h0M298.4 570.0h0M298.4 575.4h0M298.4 580.7h0M298.4 586.1h0M298.4 591.5h0M298.4 596.9h0M298.4 602.3h0M298.4 607.6h0M298.4 613.0h0M298.4 618.4h0M298.4 623.8h0M298.4 629.2h0M298.4 634.5h0M298.4 639.9h0M303.1 497.4h0M303.1 502.7h0M303.1 508.1h0M303.1 513.5h0M303.1 518.9h0M303.1 524.3h0M303.1 529.6h0M303.1 535.0h0M303.1 540.4h0M303.1 545.8h0M303.1 551.2h0M303.1 556.5h0M303.1 561.9h0M303.1 567.3h0M303.1 572.7h0M303.1 578.1h0M303.1 583.4h0M303.1 588.8h0M303.1 594.2h0M303.1 599.6h0M303.1 605.0h0M303.1 610.3h0M303.1 615.7h0M303.1 621.1h0M303.1 626.5h0M303.1 631.9h0M303.1 637.2h0M303.1 642.6h0M307.8 500.0h0M307.8 505.4h0M307.8 510.8h0M307.8 516.2h0M307.8 521.6h0M307.8 526.9h0M307.8 532.3h0M307.8 537.7h0M307.8 543.1h0M307.8 548.5h0M307.8 553.8h0M307.8 559.2h0M307.8 564.6h0M307.8 570.0h0M307.8 575.4h0M307.8 580.7h0M307.8 586.1h0M307.8 591.5h0M307.8 596.9h0M307.8 602.3h0M307.8 607.6h0M307.8 613.0h0M307.8 618.4h0M307.8 623.8h0M307.8 629.2h0M307.8 634.5h0M307.8 639.9h0M312.5 497.4h0M312.5 502.7h0M312.5 508.1h0M312.5 513.5h0M312.5 518.9h0M312.5 524.3h0M312.5 529.6h0M312.5 535.0h0M312.5 540.4h0M312.5 545.8h0M312.5 551.2h0M312.5 556.5h0M312.5 561.9h0M312.5 567.3h0M312.5 572.7h0M312.5 578.1h0M312.5 583.4h0M312.5 588.8h0M312.5 594.2h0M312.5 599.6h0M312.5 605.0h0M312.5 610.3h0M312.5 615.7h0M312.5 621.1h0M312.5 626.5h0M312.5 631.9h0M312.5 637.2h0M312.5 642.6h0M317.1 500.0h0M317.1 505.4h0M317.1 510.8h0M317.1 516.2h0M317.1 521.6h0M317.1 526.9h0M317.1 532.3h0M317.1 537.7h0M317.1 543.1h0M317.1 548.5h0M317.1 553.8h0M317.1 559.2h0M317.1 564.6h0M317.1 570.0h0M317.1 575.4h0M317.1 580.7h0M317.1 586.1h0M317.1 591.5h0M317.1 596.9h0M317.1 602.3h0M317.1 607.6h0M317.1 613.0h0M317.1 618.4h0M317.1 623.8h0M317.1 629.2h0M317.1 634.5h0M317.1 639.9h0M321.8 497.4h0M321.8 502.7h0M321.8 508.1h0M321.8 513.5h0M321.8 518.9h0M321.8 524.3h0M321.8 529.6h0M321.8 535.0h0M321.8 540.4h0M321.8 545.8h0M321.8 551.2h0M321.8 556.5h0M321.8 561.9h0M321.8 567.3h0M321.8 572.7h0M321.8 578.1h0M321.8 583.4h0M321.8 588.8h0M321.8 594.2h0M321.8 599.6h0M321.8 605.0h0M321.8 610.3h0M321.8 615.7h0M321.8 621.1h0M321.8 626.5h0M321.8 631.9h0M321.8 637.2h0M321.8 642.6h0M326.5 500.0h0M326.5 505.4h0M326.5 510.8h0M326.5 516.2h0M326.5 521.6h0M326.5 526.9h0M326.5 532.3h0M326.5 537.7h0M326.5 543.1h0M326.5 548.5h0M326.5 553.8h0M326.5 559.2h0M326.5 564.6h0M326.5 570.0h0M326.5 575.4h0M326.5 580.7h0M326.5 586.1h0M326.5 591.5h0M326.5 596.9h0M326.5 602.3h0M326.5 607.6h0M326.5 613.0h0M326.5 618.4h0M326.5 623.8h0M326.5 629.2h0M326.5 634.5h0M326.5 639.9h0M331.1 497.4h0M331.1 502.7h0M331.1 508.1h0M331.1 513.5h0M331.1 518.9h0M331.1 524.3h0M331.1 529.6h0M331.1 535.0h0M331.1 540.4h0M331.1 545.8h0M331.1 551.2h0M331.1 556.5h0M331.1 561.9h0M331.1 567.3h0M331.1 572.7h0M331.1 578.1h0M331.1 583.4h0M331.1 588.8h0M331.1 594.2h0M331.1 599.6h0M331.1 605.0h0M331.1 610.3h0M331.1 615.7h0M331.1 621.1h0M331.1 626.5h0M331.1 631.9h0M331.1 637.2h0M331.1 642.6h0M335.8 500.0h0M335.8 505.4h0M335.8 510.8h0M335.8 516.2h0M335.8 521.6h0M335.8 526.9h0M335.8 532.3h0M335.8 537.7h0M335.8 543.1h0M335.8 548.5h0M335.8 553.8h0M335.8 559.2h0M335.8 564.6h0M335.8 570.0h0M335.8 575.4h0M335.8 580.7h0M335.8 586.1h0M335.8 591.5h0M335.8 596.9h0M335.8 602.3h0M335.8 607.6h0M335.8 613.0h0M335.8 618.4h0M335.8 623.8h0M335.8 629.2h0M335.8 634.5h0M335.8 639.9h0M340.5 497.4h0M340.5 502.7h0M340.5 508.1h0M340.5 513.5h0M340.5 518.9h0M340.5 524.3h0M340.5 529.6h0M340.5 535.0h0M340.5 540.4h0M340.5 545.8h0M340.5 551.2h0M340.5 556.5h0M340.5 561.9h0M340.5 567.3h0M340.5 572.7h0M340.5 578.1h0M340.5 583.4h0M340.5 588.8h0M340.5 594.2h0M340.5 599.6h0M340.5 605.0h0M340.5 610.3h0M340.5 615.7h0M340.5 621.1h0M340.5 626.5h0M340.5 631.9h0M340.5 637.2h0M340.5 642.6h0M345.1 500.0h0M345.1 505.4h0M345.1 510.8h0M345.1 516.2h0M345.1 521.6h0M345.1 526.9h0M345.1 532.3h0M345.1 537.7h0M345.1 543.1h0M345.1 548.5h0M345.1 553.8h0M345.1 559.2h0M345.1 564.6h0M345.1 570.0h0M345.1 575.4h0M345.1 580.7h0M345.1 586.1h0M345.1 591.5h0M345.1 596.9h0M345.1 602.3h0M345.1 607.6h0M345.1 613.0h0M345.1 618.4h0M345.1 623.8h0M345.1 629.2h0M345.1 634.5h0M345.1 639.9h0M349.8 497.4h0M349.8 502.7h0M349.8 508.1h0M349.8 513.5h0M349.8 518.9h0M349.8 524.3h0M349.8 529.6h0M349.8 535.0h0M349.8 540.4h0M349.8 545.8h0M349.8 551.2h0M349.8 556.5h0M349.8 561.9h0M349.8 567.3h0M349.8 572.7h0M349.8 578.1h0M349.8 583.4h0M349.8 588.8h0M349.8 594.2h0M349.8 599.6h0M349.8 605.0h0M349.8 610.3h0M349.8 615.7h0M349.8 621.1h0M349.8 626.5h0M349.8 631.9h0M349.8 637.2h0M349.8 642.6h0M354.5 500.0h0M354.5 505.4h0M354.5 510.8h0M354.5 516.2h0M354.5 521.6h0M354.5 526.9h0M354.5 532.3h0M354.5 537.7h0M354.5 543.1h0M354.5 548.5h0M354.5 553.8h0M354.5 559.2h0M354.5 564.6h0M354.5 570.0h0M354.5 575.4h0M354.5 580.7h0M354.5 586.1h0M354.5 591.5h0M354.5 596.9h0M354.5 602.3h0M354.5 607.6h0M354.5 613.0h0M354.5 618.4h0M354.5 623.8h0M354.5 629.2h0M354.5 634.5h0M354.5 639.9h0M359.2 497.4h0M359.2 502.7h0M359.2 508.1h0M359.2 513.5h0M359.2 518.9h0M359.2 524.3h0M359.2 529.6h0M359.2 535.0h0M359.2 540.4h0M359.2 545.8h0M359.2 551.2h0M359.2 556.5h0M359.2 561.9h0M359.2 567.3h0M359.2 572.7h0M359.2 578.1h0M359.2 583.4h0M359.2 588.8h0M359.2 594.2h0M359.2 599.6h0M359.2 605.0h0M359.2 610.3h0M359.2 615.7h0M359.2 621.1h0M359.2 626.5h0M359.2 631.9h0M359.2 637.2h0M359.2 642.6h0M363.8 500.0h0M363.8 505.4h0M363.8 510.8h0M363.8 516.2h0M363.8 521.6h0M363.8 526.9h0M363.8 532.3h0M363.8 537.7h0M363.8 543.1h0M363.8 548.5h0M363.8 553.8h0M363.8 559.2h0M363.8 564.6h0M363.8 570.0h0M363.8 575.4h0M363.8 580.7h0M363.8 586.1h0M363.8 591.5h0M363.8 596.9h0M363.8 602.3h0M363.8 607.6h0M363.8 613.0h0M363.8 618.4h0M363.8 623.8h0M363.8 629.2h0M363.8 634.5h0M363.8 639.9h0M368.5 497.4h0M368.5 502.7h0M368.5 508.1h0M368.5 513.5h0M368.5 518.9h0M368.5 524.3h0M368.5 529.6h0M368.5 535.0h0M368.5 540.4h0M368.5 545.8h0M368.5 551.2h0M368.5 556.5h0M368.5 561.9h0M368.5 567.3h0M368.5 572.7h0M368.5 578.1h0M368.5 583.4h0M368.5 588.8h0M368.5 594.2h0M368.5 599.6h0M368.5 605.0h0M368.5 610.3h0M368.5 615.7h0M368.5 621.1h0M368.5 626.5h0M368.5 631.9h0M368.5 637.2h0M368.5 642.6h0M373.2 543.1h0M373.2 548.5h0M373.2 564.6h0M373.2 570.0h0M373.2 596.9h0M373.2 623.8h0M373.2 629.2h0"/></defs><use href="#pe2" stroke="#fbdccb" stroke-width="5.5"/><use href="#pe2" stroke="#f3b092" stroke-width="4.4"/></g>
<path clip-path="url(#ce2)" stroke="#000" stroke-width="5.0" stroke-linecap="round" fill="none" d="M317.1 548.5h0M317.1 553.8h0M326.5 505.4h0M326.5 543.1h0M331.1 513.5h0M331.1 518.9h0M331.1 529.6h0M331.1 556.5h0M331.1 561.9h0M331.1 583.4h0M331.1 588.8h0M331.1 610.3h0M340.5 524.3h0M340.5 540.4h0M340.5 551.2h0M340.5 567.3h0M340.5 578.1h0M340.5 594.2h0M340.5 599.6h0M340.5 621.1h0M340.5 631.9h0M349.8 529.6h0M349.8 535.0h0M349.8 556.5h0M349.8 561.9h0M349.8 583.4h0M349.8 588.8h0M349.8 610.3h0M349.8 615.7h0M363.8 516.2h0M363.8 521.6h0M363.8 543.1h0M363.8 575.4h0M363.8 596.9h0M363.8 602.3h0M363.8 623.8h0M321.8 529.6h0M321.8 535.0h0M321.8 567.3h0M321.8 572.7h0M321.8 578.1h0M321.8 594.2h0M321.8 599.6h0M321.8 605.0h0M321.8 615.7h0M321.8 621.1h0M321.8 626.5h0M321.8 631.9h0"/>
<rect x="276.3" y="499.5" width="100.7" height="141" fill="none" stroke="#000" stroke-width="2" rx="1.5"/>
<clipPath id="ce3"><rect x="394" y="500.5" width="98.7" height="139"/></clipPath>
<g clip-path="url(#ce3)" stroke-linecap="round" fill="none"><defs><path id="pe3" d="M396.5 548.5h0M396.5 553.8h0M396.5 559.2h0M396.5 564.6h0M396.5 570.0h0M401.1 497.4h0M401.1 502.7h0M401.1 508.1h0M401.1 513.5h0M401.1 518.9h0M401.1 535.0h0M401.1 551.2h0M401.1 556.5h0M401.1 561.9h0M401.1 567.3h0M401.1 610.3h0M401.1 615.7h0M401.1 621.1h0M401.1 626.5h0M401.1 631.9h0M401.1 637.2h0M401.1 642.6h0M405.8 500.0h0M405.8 505.4h0M405.8 510.8h0M405.8 516.2h0M405.8 521.6h0M405.8 526.9h0M405.8 532.3h0M405.8 537.7h0M405.8 543.1h0M405.8 548.5h0M405.8 553.8h0M405.8 559.2h0M405.8 564.6h0M405.8 570.0h0M405.8 575.4h0M405.8 580.7h0M405.8 586.1h0M405.8 591.5h0M405.8 596.9h0M405.8 602.3h0M405.8 607.6h0M405.8 613.0h0M405.8 618.4h0M405.8 623.8h0M405.8 629.2h0M405.8 634.5h0M405.8 639.9h0M410.5 497.4h0M410.5 502.7h0M410.5 508.1h0M410.5 513.5h0M410.5 518.9h0M410.5 524.3h0M410.5 529.6h0M410.5 535.0h0M410.5 540.4h0M410.5 545.8h0M410.5 551.2h0M410.5 556.5h0M410.5 561.9h0M410.5 567.3h0M410.5 572.7h0M410.5 578.1h0M410.5 583.4h0M410.5 588.8h0M410.5 594.2h0M410.5 599.6h0M410.5 605.0h0M410.5 610.3h0M410.5 615.7h0M410.5 621.1h0M410.5 626.5h0M410.5 631.9h0M410.5 637.2h0M410.5 642.6h0M415.1 500.0h0M415.1 505.4h0M415.1 510.8h0M415.1 516.2h0M415.1 521.6h0M415.1 526.9h0M415.1 532.3h0M415.1 537.7h0M415.1 543.1h0M415.1 548.5h0M415.1 553.8h0M415.1 559.2h0M415.1 564.6h0M415.1 570.0h0M415.1 575.4h0M415.1 580.7h0M415.1 586.1h0M415.1 591.5h0M415.1 596.9h0M415.1 602.3h0M415.1 607.6h0M415.1 613.0h0M415.1 618.4h0M415.1 623.8h0M415.1 629.2h0M415.1 634.5h0M415.1 639.9h0M419.8 497.4h0M419.8 502.7h0M419.8 508.1h0M419.8 513.5h0M419.8 518.9h0M419.8 524.3h0M419.8 529.6h0M419.8 535.0h0M419.8 540.4h0M419.8 545.8h0M419.8 551.2h0M419.8 556.5h0M419.8 561.9h0M419.8 567.3h0M419.8 572.7h0M419.8 578.1h0M419.8 583.4h0M419.8 588.8h0M419.8 594.2h0M419.8 599.6h0M419.8 605.0h0M419.8 610.3h0M419.8 615.7h0M419.8 621.1h0M419.8 626.5h0M419.8 631.9h0M419.8 637.2h0M419.8 642.6h0M424.5 500.0h0M424.5 505.4h0M424.5 510.8h0M424.5 516.2h0M424.5 521.6h0M424.5 526.9h0M424.5 532.3h0M424.5 537.7h0M424.5 543.1h0M424.5 548.5h0M424.5 553.8h0M424.5 559.2h0M424.5 564.6h0M424.5 570.0h0M424.5 575.4h0M424.5 580.7h0M424.5 586.1h0M424.5 591.5h0M424.5 596.9h0M424.5 602.3h0M424.5 607.6h0M424.5 613.0h0M424.5 618.4h0M424.5 623.8h0M424.5 629.2h0M424.5 634.5h0M424.5 639.9h0M429.2 497.4h0M429.2 502.7h0M429.2 508.1h0M429.2 513.5h0M429.2 518.9h0M429.2 524.3h0M429.2 529.6h0M429.2 535.0h0M429.2 540.4h0M429.2 545.8h0M429.2 551.2h0M429.2 556.5h0M429.2 561.9h0M429.2 567.3h0M429.2 572.7h0M429.2 578.1h0M429.2 583.4h0M429.2 588.8h0M429.2 594.2h0M429.2 599.6h0M429.2 605.0h0M429.2 610.3h0M429.2 615.7h0M429.2 621.1h0M429.2 626.5h0M429.2 631.9h0M429.2 637.2h0M429.2 642.6h0M433.8 500.0h0M433.8 505.4h0M433.8 510.8h0M433.8 516.2h0M433.8 521.6h0M433.8 526.9h0M433.8 532.3h0M433.8 537.7h0M433.8 543.1h0M433.8 548.5h0M433.8 553.8h0M433.8 559.2h0M433.8 564.6h0M433.8 570.0h0M433.8 575.4h0M433.8 580.7h0M433.8 586.1h0M433.8 591.5h0M433.8 596.9h0M433.8 602.3h0M433.8 607.6h0M433.8 613.0h0M433.8 618.4h0M433.8 623.8h0M433.8 629.2h0M433.8 634.5h0M433.8 639.9h0M438.5 497.4h0M438.5 502.7h0M438.5 508.1h0M438.5 513.5h0M438.5 518.9h0M438.5 524.3h0M438.5 529.6h0M438.5 535.0h0M438.5 540.4h0M438.5 545.8h0M438.5 551.2h0M438.5 556.5h0M438.5 561.9h0M438.5 567.3h0M438.5 572.7h0M438.5 578.1h0M438.5 583.4h0M438.5 588.8h0M438.5 594.2h0M438.5 599.6h0M438.5 605.0h0M438.5 610.3h0M438.5 615.7h0M438.5 621.1h0M438.5 626.5h0M438.5 631.9h0M438.5 637.2h0M438.5 642.6h0M443.2 500.0h0M443.2 505.4h0M443.2 510.8h0M443.2 516.2h0M443.2 521.6h0M443.2 526.9h0M443.2 532.3h0M443.2 537.7h0M443.2 543.1h0M443.2 548.5h0M443.2 553.8h0M443.2 559.2h0M443.2 564.6h0M443.2 570.0h0M443.2 575.4h0M443.2 580.7h0M443.2 586.1h0M443.2 591.5h0M443.2 596.9h0M443.2 602.3h0M443.2 607.6h0M443.2 613.0h0M443.2 618.4h0M443.2 623.8h0M443.2 629.2h0M443.2 634.5h0M443.2 639.9h0M447.8 497.4h0M447.8 502.7h0M447.8 508.1h0M447.8 513.5h0M447.8 518.9h0M447.8 524.3h0M447.8 529.6h0M447.8 535.0h0M447.8 540.4h0M447.8 545.8h0M447.8 551.2h0M447.8 556.5h0M447.8 561.9h0M447.8 567.3h0M447.8 572.7h0M447.8 578.1h0M447.8 583.4h0M447.8 588.8h0M447.8 594.2h0M447.8 599.6h0M447.8 605.0h0M447.8 610.3h0M447.8 615.7h0M447.8 621.1h0M447.8 626.5h0M447.8 631.9h0M447.8 637.2h0M447.8 642.6h0M452.5 500.0h0M452.5 505.4h0M452.5 510.8h0M452.5 516.2h0M452.5 521.6h0M452.5 526.9h0M452.5 532.3h0M452.5 537.7h0M452.5 543.1h0M452.5 548.5h0M452.5 553.8h0M452.5 559.2h0M452.5 564.6h0M452.5 570.0h0M452.5 575.4h0M452.5 580.7h0M452.5 586.1h0M452.5 591.5h0M452.5 596.9h0M452.5 602.3h0M452.5 607.6h0M452.5 613.0h0M452.5 618.4h0M452.5 623.8h0M452.5 629.2h0M452.5 634.5h0M452.5 639.9h0M457.2 497.4h0M457.2 502.7h0M457.2 508.1h0M457.2 513.5h0M457.2 518.9h0M457.2 524.3h0M457.2 529.6h0M457.2 535.0h0M457.2 540.4h0M457.2 545.8h0M457.2 551.2h0M457.2 556.5h0M457.2 561.9h0M457.2 567.3h0M457.2 572.7h0M457.2 578.1h0M457.2 583.4h0M457.2 588.8h0M457.2 594.2h0M457.2 599.6h0M457.2 605.0h0M457.2 610.3h0M457.2 615.7h0M457.2 621.1h0M457.2 626.5h0M457.2 631.9h0M457.2 637.2h0M457.2 642.6h0M461.8 500.0h0M461.8 505.4h0M461.8 510.8h0M461.8 516.2h0M461.8 521.6h0M461.8 526.9h0M461.8 532.3h0M461.8 537.7h0M461.8 543.1h0M461.8 548.5h0M461.8 553.8h0M461.8 559.2h0M461.8 564.6h0M461.8 570.0h0M461.8 575.4h0M461.8 580.7h0M461.8 586.1h0M461.8 591.5h0M461.8 596.9h0M461.8 602.3h0M461.8 607.6h0M461.8 613.0h0M461.8 618.4h0M461.8 623.8h0M461.8 629.2h0M461.8 634.5h0M461.8 639.9h0M466.5 497.4h0M466.5 502.7h0M466.5 508.1h0M466.5 513.5h0M466.5 518.9h0M466.5 524.3h0M466.5 529.6h0M466.5 535.0h0M466.5 540.4h0M466.5 545.8h0M466.5 551.2h0M466.5 556.5h0M466.5 561.9h0M466.5 567.3h0M466.5 572.7h0M466.5 578.1h0M466.5 583.4h0M466.5 588.8h0M466.5 594.2h0M466.5 599.6h0M466.5 605.0h0M466.5 610.3h0M466.5 615.7h0M466.5 621.1h0M466.5 626.5h0M466.5 631.9h0M466.5 637.2h0M466.5 642.6h0M471.2 500.0h0M471.2 505.4h0M471.2 510.8h0M471.2 516.2h0M471.2 521.6h0M471.2 526.9h0M471.2 532.3h0M471.2 537.7h0M471.2 543.1h0M471.2 548.5h0M471.2 553.8h0M471.2 559.2h0M471.2 564.6h0M471.2 570.0h0M471.2 575.4h0M471.2 580.7h0M471.2 586.1h0M471.2 591.5h0M471.2 596.9h0M471.2 602.3h0M471.2 607.6h0M471.2 613.0h0M471.2 618.4h0M471.2 623.8h0M471.2 629.2h0M471.2 634.5h0M471.2 639.9h0M475.9 497.4h0M475.9 502.7h0M475.9 508.1h0M475.9 513.5h0M475.9 518.9h0M475.9 524.3h0M475.9 529.6h0M475.9 535.0h0M475.9 540.4h0M475.9 545.8h0M475.9 551.2h0M475.9 556.5h0M475.9 561.9h0M475.9 567.3h0M475.9 572.7h0M475.9 578.1h0M475.9 583.4h0M475.9 588.8h0M475.9 594.2h0M475.9 599.6h0M475.9 605.0h0M475.9 610.3h0M475.9 615.7h0M475.9 621.1h0M475.9 626.5h0M475.9 631.9h0M475.9 637.2h0M475.9 642.6h0M480.5 500.0h0M480.5 505.4h0M480.5 510.8h0M480.5 516.2h0M480.5 521.6h0M480.5 526.9h0M480.5 532.3h0M480.5 537.7h0M480.5 543.1h0M480.5 548.5h0M480.5 553.8h0M480.5 559.2h0M480.5 564.6h0M480.5 570.0h0M480.5 575.4h0M480.5 580.7h0M480.5 586.1h0M480.5 591.5h0M480.5 596.9h0M480.5 602.3h0M480.5 607.6h0M480.5 613.0h0M480.5 618.4h0M480.5 623.8h0M480.5 629.2h0M480.5 634.5h0M480.5 639.9h0M485.2 497.4h0M485.2 502.7h0M485.2 508.1h0M485.2 513.5h0M485.2 518.9h0M485.2 524.3h0M485.2 529.6h0M485.2 535.0h0M485.2 540.4h0M485.2 545.8h0M485.2 551.2h0M485.2 556.5h0M485.2 561.9h0M485.2 567.3h0M485.2 572.7h0M485.2 578.1h0M485.2 583.4h0M485.2 588.8h0M485.2 594.2h0M485.2 599.6h0M485.2 605.0h0M485.2 610.3h0M485.2 615.7h0M485.2 621.1h0M485.2 626.5h0M485.2 631.9h0M485.2 637.2h0M485.2 642.6h0M489.9 543.1h0M489.9 548.5h0M489.9 564.6h0M489.9 570.0h0M489.9 596.9h0M489.9 623.8h0M489.9 629.2h0"/></defs><use href="#pe3" stroke="#fbdccb" stroke-width="5.5"/><use href="#pe3" stroke="#f3b092" stroke-width="4.4"/></g>
<path clip-path="url(#ce3)" stroke="#000" stroke-width="5.0" stroke-linecap="round" fill="none" d="M443.2 505.4h0M443.2 510.8h0M443.2 516.2h0M443.2 521.6h0M443.2 543.1h0M443.2 548.5h0M447.8 513.5h0M447.8 518.9h0M447.8 524.3h0M447.8 529.6h0M447.8 556.5h0M447.8 561.9h0M447.8 583.4h0M447.8 588.8h0M447.8 610.3h0M452.5 516.2h0M452.5 521.6h0M452.5 607.6h0M452.5 613.0h0M452.5 623.8h0M452.5 629.2h0M457.2 524.3h0M457.2 540.4h0M457.2 545.8h0M457.2 551.2h0M457.2 567.3h0M457.2 572.7h0M457.2 578.1h0M457.2 594.2h0M457.2 599.6h0M457.2 605.0h0M457.2 621.1h0M457.2 626.5h0M457.2 631.9h0M466.5 529.6h0M466.5 535.0h0M466.5 556.5h0M466.5 561.9h0M466.5 583.4h0M466.5 588.8h0M466.5 610.3h0M466.5 615.7h0M480.5 516.2h0M480.5 521.6h0M480.5 543.1h0M480.5 575.4h0M480.5 596.9h0M480.5 602.3h0M480.5 623.8h0"/>
<rect x="393" y="499.5" width="100.7" height="141" fill="none" stroke="#000" stroke-width="2" rx="1.5"/>
<text x="423" y="178.9" font-size="15.4">Time</text><rect x="471.3" y="171.35" width="197.2" height="4.5" fill="#000"/><polygon points="464.3,173.6 473.3,168.6 471.8,173.6 473.3,178.6" fill="#000"/><text x="224.9" y="667.8" font-size="15.4">Time</text><rect x="276" y="661.25" width="197.3" height="4.5" fill="#000"/><polygon points="269,663.5 278,658.5 276.5,663.5 278,668.5" fill="#000"/>
<defs>
<linearGradient id="cb" x1="0" y1="0" x2="0" y2="1"><stop offset="0" stop-color="#7a0a0a"/><stop offset="0.13" stop-color="#c01a05"/><stop offset="0.266" stop-color="#ff0000"/><stop offset="0.36" stop-color="#ff0090"/><stop offset="0.455" stop-color="#f010f8"/><stop offset="0.565" stop-color="#b060ff"/><stop offset="0.645" stop-color="#7090ff"/><stop offset="0.725" stop-color="#40c0ff"/><stop offset="0.765" stop-color="#00f0ff"/><stop offset="0.82" stop-color="#2080ff"/><stop offset="0.865" stop-color="#0010ff"/><stop offset="0.94" stop-color="#1020b0"/><stop offset="1" stop-color="#101c90"/></linearGradient>
<clipPath id="cR1"><polygon fill="#000"  points="65.0,232.0 253.9,232.0 253.9,387.0 249.8,387.0 249.8,384.0 245.8,384.0 245.8,381.0 241.7,381.0 241.7,378.0 237.6,378.0 237.6,375.0 233.6,375.0 233.6,372.0 229.5,372.0 229.5,369.0 225.5,369.0 225.5,366.0 221.4,366.0 221.4,363.0 217.3,363.0 217.3,360.0 213.3,360.0 213.3,357.0 209.2,357.0 209.2,354.0 205.1,354.0 205.1,351.0 201.1,351.0 201.1,348.0 197.0,348.0 197.0,345.0 192.9,345.0 192.9,342.0 188.9,342.0 188.9,339.1 184.8,339.1 184.8,336.2 180.7,336.2 180.7,333.2 176.7,333.2 176.7,330.3 172.6,330.3 172.6,327.4 168.6,327.4 168.6,324.4 164.5,324.4 164.5,321.5 160.4,321.5 160.4,318.6 156.4,318.6 156.4,315.6 152.3,315.6 152.3,312.7 148.2,312.7 148.2,309.1 144.2,309.1 144.2,305.4 140.1,305.4 140.1,301.8 136.0,301.8 136.0,298.1 132.0,298.1 132.0,294.5 127.9,294.5 127.9,290.8 123.9,290.8 123.9,287.1 119.8,287.1 119.8,283.5 115.7,283.5 115.7,279.8 111.7,279.8 111.7,276.2 107.6,276.2 107.6,272.5 103.5,272.5 103.5,268.9 99.5,268.9 99.5,264.9 95.4,264.9 95.4,260.8 91.3,260.8 91.3,256.7 87.3,256.7 87.3,252.5 83.2,252.5 83.2,248.4 79.1,248.4 79.1,244.3 75.1,244.3 75.1,240.2 71.0,240.2 71.0,236.0 67.0,236.0 67.0,231.9 65.0,231.9"/></clipPath>
<clipPath id="cB2"><polygon fill="#000"  points="50.7,257.4 54.8,257.4 54.8,260.2 58.8,260.2 58.8,263.0 62.9,263.0 62.9,265.8 67.0,265.8 67.0,268.5 71.0,268.5 71.0,271.3 75.1,271.3 75.1,274.1 79.1,274.1 79.1,276.9 83.2,276.9 83.2,279.7 87.3,279.7 87.3,282.5 91.3,282.5 91.3,285.3 95.4,285.3 95.4,288.0 99.5,288.0 99.5,290.8 103.5,290.8 103.5,293.7 107.6,293.7 107.6,296.5 111.7,296.5 111.7,299.3 115.7,299.3 115.7,302.1 119.8,302.1 119.8,304.9 123.9,304.9 123.9,307.8 127.9,307.8 127.9,310.6 132.0,310.6 132.0,313.4 136.0,313.4 136.0,316.2 140.1,316.2 140.1,319.0 144.2,319.0 144.2,321.9 148.2,321.9 148.2,324.7 152.3,324.7 152.3,327.3 156.4,327.3 156.4,330.0 160.4,330.0 160.4,332.7 164.5,332.7 164.5,335.3 168.6,335.3 168.6,338.0 172.6,338.0 172.6,340.7 176.7,340.7 176.7,343.3 180.7,343.3 180.7,346.0 184.8,346.0 184.8,348.7 188.9,348.7 188.9,351.3 192.9,351.3 192.9,354.0 197.0,354.0 197.0,356.6 201.1,356.6 201.1,359.2 205.1,359.2 205.1,361.7 209.2,361.7 209.2,364.3 213.3,364.3 213.3,366.9 217.3,366.9 217.3,369.5 221.4,369.5 221.4,372.1 225.5,372.1 225.5,374.7 229.5,374.7 229.5,377.3 233.6,377.3 233.6,379.9 237.6,379.9 237.6,382.4 241.7,382.4 241.7,385.0 245.8,385.0 245.8,387.6 249.8,387.6 249.8,390.2 253.9,390.2 253.9,420.7 241.0,419.9 237.6,419.9 237.6,417.5 233.6,417.5 233.6,415.1 229.5,415.1 229.5,412.7 225.5,412.7 225.5,410.3 221.4,410.3 221.4,407.9 217.3,407.9 217.3,405.5 213.3,405.5 213.3,403.1 209.2,403.1 209.2,400.6 205.1,400.6 205.1,398.2 201.1,398.2 201.1,395.8 197.0,395.8 197.0,393.1 192.9,393.1 192.9,390.5 188.9,390.5 188.9,387.9 184.8,387.9 184.8,385.2 180.7,385.2 180.7,382.6 176.7,382.6 176.7,380.0 172.6,380.0 172.6,377.3 168.6,377.3 168.6,374.7 164.5,374.7 164.5,372.1 160.4,372.1 160.4,369.4 156.4,369.4 156.4,366.8 152.3,366.8 152.3,364.2 148.2,364.2 148.2,361.5 144.2,361.5 144.2,358.9 140.1,358.9 140.1,356.3 136.0,356.3 136.0,353.7 132.0,353.7 132.0,351.0 127.9,351.0 127.9,348.4 123.9,348.4 123.9,345.8 119.8,345.8 119.8,343.1 115.7,343.1 115.7,340.5 111.7,340.5 111.7,337.9 107.6,337.9 107.6,335.3 103.5,335.3 103.5,332.6 99.5,332.6 99.5,330.0 95.4,330.0 95.4,327.4 91.3,327.4 91.3,324.8 87.3,324.8 87.3,322.2 83.2,322.2 83.2,319.6 79.1,319.6 79.1,317.0 75.1,317.0 75.1,314.4 71.0,314.4 71.0,311.7 67.0,311.7 67.0,309.1 62.9,309.1 62.9,306.5 58.8,306.5 58.8,303.9 54.8,303.9 54.8,301.3 50.7,301.3"/></clipPath>
<clipPath id="cB3"><polygon fill="#000"  points="50.7,353.1 54.8,353.1 54.8,355.0 58.8,355.0 58.8,356.9 62.9,356.9 62.9,358.8 67.0,358.8 67.0,360.6 71.0,360.6 71.0,362.5 75.1,362.5 75.1,364.4 79.1,364.4 79.1,366.3 83.2,366.3 83.2,368.2 87.3,368.2 87.3,370.0 91.3,370.0 91.3,371.9 95.4,371.9 95.4,373.8 99.5,373.8 99.5,375.7 103.5,375.7 103.5,377.5 107.6,377.5 107.6,379.4 111.7,379.4 111.7,381.3 115.7,381.3 115.7,383.2 119.8,383.2 119.8,385.1 123.9,385.1 123.9,386.9 127.9,386.9 127.9,388.8 132.0,388.8 132.0,390.7 136.0,390.7 136.0,392.6 140.1,392.6 140.1,394.4 144.2,394.4 144.2,396.3 148.2,396.3 148.2,398.2 152.3,398.2 152.3,400.1 156.4,400.1 156.4,401.9 160.4,401.9 160.4,403.8 164.5,403.8 164.5,405.7 168.6,405.7 168.6,407.6 172.6,407.6 172.6,409.5 176.7,409.5 176.7,411.3 180.7,411.3 180.7,413.2 184.8,413.2 184.8,415.1 188.9,415.1 188.9,417.0 192.9,417.0 192.9,418.8 197.0,418.8 197.0,420.2 199.0,420.2 159.5,420.2 156.4,420.2 156.4,418.4 152.3,418.4 152.3,416.7 148.2,416.7 148.2,414.9 144.2,414.9 144.2,413.1 140.1,413.1 140.1,411.3 136.0,411.3 136.0,409.6 132.0,409.6 132.0,407.8 127.9,407.8 127.9,406.0 123.9,406.0 123.9,404.2 119.8,404.2 119.8,402.5 115.7,402.5 115.7,400.7 111.7,400.7 111.7,398.9 107.6,398.9 107.6,397.2 103.5,397.2 103.5,395.4 99.5,395.4 99.5,393.6 95.4,393.6 95.4,391.8 91.3,391.8 91.3,390.1 87.3,390.1 87.3,388.3 83.2,388.3 83.2,386.5 79.1,386.5 79.1,384.7 75.1,384.7 75.1,383.0 71.0,383.0 71.0,381.2 67.0,381.2 67.0,379.4 62.9,379.4 62.9,377.6 58.8,377.6 58.8,375.9 54.8,375.9 54.8,374.1 50.7,374.1"/></clipPath>
<radialGradient id="gR1" gradientUnits="userSpaceOnUse" cx="0" cy="0" r="1" gradientTransform="translate(205,338) rotate(38.7) scale(105,38)"><stop offset="0" stop-color="#0a1ae4"/><stop offset="0.55" stop-color="#0e1ec8"/><stop offset="1" stop-color="#10209e"/></radialGradient>
<linearGradient id="gB2" gradientUnits="userSpaceOnUse" x1="50" y1="280" x2="160" y2="340"><stop offset="0" stop-color="#1224a8"/><stop offset="1" stop-color="#0a18dc"/></linearGradient>
<linearGradient id="gB3" gradientUnits="userSpaceOnUse" x1="50" y1="360" x2="200" y2="420"><stop offset="0" stop-color="#1224a8"/><stop offset="0.6" stop-color="#1838e0"/><stop offset="1" stop-color="#2050ff"/></linearGradient>
<linearGradient id="gBand" gradientUnits="userSpaceOnUse" x1="165" y1="0" x2="220" y2="0"><stop offset="0" stop-color="#3aa8ff" stop-opacity="0"/><stop offset="1" stop-color="#3aa8ff" stop-opacity="0.6"/></linearGradient>
</defs>
<polygon fill="url(#gR1)"  points="65.0,232.0 253.9,232.0 253.9,387.0 249.8,387.0 249.8,384.0 245.8,384.0 245.8,381.0 241.7,381.0 241.7,378.0 237.6,378.0 237.6,375.0 233.6,375.0 233.6,372.0 229.5,372.0 229.5,369.0 225.5,369.0 225.5,366.0 221.4,366.0 221.4,363.0 217.3,363.0 217.3,360.0 213.3,360.0 213.3,357.0 209.2,357.0 209.2,354.0 205.1,354.0 205.1,351.0 201.1,351.0 201.1,348.0 197.0,348.0 197.0,345.0 192.9,345.0 192.9,342.0 188.9,342.0 188.9,339.1 184.8,339.1 184.8,336.2 180.7,336.2 180.7,333.2 176.7,333.2 176.7,330.3 172.6,330.3 172.6,327.4 168.6,327.4 168.6,324.4 164.5,324.4 164.5,321.5 160.4,321.5 160.4,318.6 156.4,318.6 156.4,315.6 152.3,315.6 152.3,312.7 148.2,312.7 148.2,309.1 144.2,309.1 144.2,305.4 140.1,305.4 140.1,301.8 136.0,301.8 136.0,298.1 132.0,298.1 132.0,294.5 127.9,294.5 127.9,290.8 123.9,290.8 123.9,287.1 119.8,287.1 119.8,283.5 115.7,283.5 115.7,279.8 111.7,279.8 111.7,276.2 107.6,276.2 107.6,272.5 103.5,272.5 103.5,268.9 99.5,268.9 99.5,264.9 95.4,264.9 95.4,260.8 91.3,260.8 91.3,256.7 87.3,256.7 87.3,252.5 83.2,252.5 83.2,248.4 79.1,248.4 79.1,244.3 75.1,244.3 75.1,240.2 71.0,240.2 71.0,236.0 67.0,236.0 67.0,231.9 65.0,231.9"/>
<polygon fill="url(#gB2)"  points="50.7,257.4 54.8,257.4 54.8,260.2 58.8,260.2 58.8,263.0 62.9,263.0 62.9,265.8 67.0,265.8 67.0,268.5 71.0,268.5 71.0,271.3 75.1,271.3 75.1,274.1 79.1,274.1 79.1,276.9 83.2,276.9 83.2,279.7 87.3,279.7 87.3,282.5 91.3,282.5 91.3,285.3 95.4,285.3 95.4,288.0 99.5,288.0 99.5,290.8 103.5,290.8 103.5,293.7 107.6,293.7 107.6,296.5 111.7,296.5 111.7,299.3 115.7,299.3 115.7,302.1 119.8,302.1 119.8,304.9 123.9,304.9 123.9,307.8 127.9,307.8 127.9,310.6 132.0,310.6 132.0,313.4 136.0,313.4 136.0,316.2 140.1,316.2 140.1,319.0 144.2,319.0 144.2,321.9 148.2,321.9 148.2,324.7 152.3,324.7 152.3,327.3 156.4,327.3 156.4,330.0 160.4,330.0 160.4,332.7 164.5,332.7 164.5,335.3 168.6,335.3 168.6,338.0 172.6,338.0 172.6,340.7 176.7,340.7 176.7,343.3 180.7,343.3 180.7,346.0 184.8,346.0 184.8,348.7 188.9,348.7 188.9,351.3 192.9,351.3 192.9,354.0 197.0,354.0 197.0,356.6 201.1,356.6 201.1,359.2 205.1,359.2 205.1,361.7 209.2,361.7 209.2,364.3 213.3,364.3 213.3,366.9 217.3,366.9 217.3,369.5 221.4,369.5 221.4,372.1 225.5,372.1 225.5,374.7 229.5,374.7 229.5,377.3 233.6,377.3 233.6,379.9 237.6,379.9 237.6,382.4 241.7,382.4 241.7,385.0 245.8,385.0 245.8,387.6 249.8,387.6 249.8,390.2 253.9,390.2 253.9,420.7 241.0,419.9 237.6,419.9 237.6,417.5 233.6,417.5 233.6,415.1 229.5,415.1 229.5,412.7 225.5,412.7 225.5,410.3 221.4,410.3 221.4,407.9 217.3,407.9 217.3,405.5 213.3,405.5 213.3,403.1 209.2,403.1 209.2,400.6 205.1,400.6 205.1,398.2 201.1,398.2 201.1,395.8 197.0,395.8 197.0,393.1 192.9,393.1 192.9,390.5 188.9,390.5 188.9,387.9 184.8,387.9 184.8,385.2 180.7,385.2 180.7,382.6 176.7,382.6 176.7,380.0 172.6,380.0 172.6,377.3 168.6,377.3 168.6,374.7 164.5,374.7 164.5,372.1 160.4,372.1 160.4,369.4 156.4,369.4 156.4,366.8 152.3,366.8 152.3,364.2 148.2,364.2 148.2,361.5 144.2,361.5 144.2,358.9 140.1,358.9 140.1,356.3 136.0,356.3 136.0,353.7 132.0,353.7 132.0,351.0 127.9,351.0 127.9,348.4 123.9,348.4 123.9,345.8 119.8,345.8 119.8,343.1 115.7,343.1 115.7,340.5 111.7,340.5 111.7,337.9 107.6,337.9 107.6,335.3 103.5,335.3 103.5,332.6 99.5,332.6 99.5,330.0 95.4,330.0 95.4,327.4 91.3,327.4 91.3,324.8 87.3,324.8 87.3,322.2 83.2,322.2 83.2,319.6 79.1,319.6 79.1,317.0 75.1,317.0 75.1,314.4 71.0,314.4 71.0,311.7 67.0,311.7 67.0,309.1 62.9,309.1 62.9,306.5 58.8,306.5 58.8,303.9 54.8,303.9 54.8,301.3 50.7,301.3"/>
<polygon fill="url(#gB3)"  points="50.7,353.1 54.8,353.1 54.8,355.0 58.8,355.0 58.8,356.9 62.9,356.9 62.9,358.8 67.0,358.8 67.0,360.6 71.0,360.6 71.0,362.5 75.1,362.5 75.1,364.4 79.1,364.4 79.1,366.3 83.2,366.3 83.2,368.2 87.3,368.2 87.3,370.0 91.3,370.0 91.3,371.9 95.4,371.9 95.4,373.8 99.5,373.8 99.5,375.7 103.5,375.7 103.5,377.5 107.6,377.5 107.6,379.4 111.7,379.4 111.7,381.3 115.7,381.3 115.7,383.2 119.8,383.2 119.8,385.1 123.9,385.1 123.9,386.9 127.9,386.9 127.9,388.8 132.0,388.8 132.0,390.7 136.0,390.7 136.0,392.6 140.1,392.6 140.1,394.4 144.2,394.4 144.2,396.3 148.2,396.3 148.2,398.2 152.3,398.2 152.3,400.1 156.4,400.1 156.4,401.9 160.4,401.9 160.4,403.8 164.5,403.8 164.5,405.7 168.6,405.7 168.6,407.6 172.6,407.6 172.6,409.5 176.7,409.5 176.7,411.3 180.7,411.3 180.7,413.2 184.8,413.2 184.8,415.1 188.9,415.1 188.9,417.0 192.9,417.0 192.9,418.8 197.0,418.8 197.0,420.2 199.0,420.2 159.5,420.2 156.4,420.2 156.4,418.4 152.3,418.4 152.3,416.7 148.2,416.7 148.2,414.9 144.2,414.9 144.2,413.1 140.1,413.1 140.1,411.3 136.0,411.3 136.0,409.6 132.0,409.6 132.0,407.8 127.9,407.8 127.9,406.0 123.9,406.0 123.9,404.2 119.8,404.2 119.8,402.5 115.7,402.5 115.7,400.7 111.7,400.7 111.7,398.9 107.6,398.9 107.6,397.2 103.5,397.2 103.5,395.4 99.5,395.4 99.5,393.6 95.4,393.6 95.4,391.8 91.3,391.8 91.3,390.1 87.3,390.1 87.3,388.3 83.2,388.3 83.2,386.5 79.1,386.5 79.1,384.7 75.1,384.7 75.1,383.0 71.0,383.0 71.0,381.2 67.0,381.2 67.0,379.4 62.9,379.4 62.9,377.6 58.8,377.6 58.8,375.9 54.8,375.9 54.8,374.1 50.7,374.1"/>
<g clip-path="url(#cR1)"><polyline fill="none" stroke="#0e1ea8" stroke-width="3.2" opacity="1" points="60.0,225.3 84.5,250.2 109.0,274.0 133.5,296.0 158.0,316.7 182.5,334.4 207.0,352.3 231.5,370.4 256.0,388.5"/><polyline fill="none" stroke="#1a40ff" stroke-width="2.5" opacity="0.9" points="185.0,334.8 193.9,341.2 202.8,347.7 211.6,354.3 220.5,360.8 229.4,367.4 238.2,373.9 247.1,380.5 256.0,387.1"/><polyline fill="none" stroke="#40c8ff" stroke-width="1.6" opacity="0.9" points="195.0,338.5 202.6,344.1 210.2,349.8 217.9,355.4 225.5,361.0 233.1,366.7 240.8,372.3 248.4,377.9 256.0,383.6"/><polyline fill="none" stroke="#1a48ff" stroke-width="2.2" opacity="0.9" points="200.0,338.7 207.0,343.9 214.0,349.0 221.0,354.2 228.0,359.4 235.0,364.5 242.0,369.7 249.0,374.9 256.0,380.1"/><polyline fill="none" stroke="#38b0ff" stroke-width="1.6" opacity="0.85" points="205.0,338.4 211.4,343.1 217.8,347.8 224.1,352.5 230.5,357.2 236.9,361.9 243.2,366.6 249.6,371.3 256.0,376.1"/><polyline fill="none" stroke="#2060ff" stroke-width="2" opacity="0.8" points="212.0,339.6 217.5,343.6 223.0,347.7 228.5,351.7 234.0,355.8 239.5,359.9 245.0,363.9 250.5,368.0 256.0,372.1"/><polyline fill="none" stroke="#38c0ff" stroke-width="1.4" opacity="0.8" points="220.0,340.5 224.5,343.8 229.0,347.1 233.5,350.4 238.0,353.8 242.5,357.1 247.0,360.4 251.5,363.7 256.0,367.1"/><polyline fill="none" stroke="#2050ff" stroke-width="1.6" opacity="0.7" points="215.0,331.8 220.1,335.6 225.2,339.3 230.4,343.1 235.5,346.9 240.6,350.7 245.8,354.5 250.9,358.3 256.0,362.1"/><polyline fill="none" stroke="#30a0ff" stroke-width="1.4" opacity="0.7" points="222.0,330.9 226.2,334.1 230.5,337.2 234.8,340.4 239.0,343.5 243.2,346.6 247.5,349.8 251.8,352.9 256.0,356.1"/><polyline fill="none" stroke="#1a48ff" stroke-width="2" opacity="0.7" points="228.0,328.4 231.5,331.0 235.0,333.5 238.5,336.1 242.0,338.7 245.5,341.3 249.0,343.9 252.5,346.5 256.0,349.1"/><polyline fill="none" stroke="#30b0ff" stroke-width="1.3" opacity="0.6" points="235.0,325.5 237.6,327.5 240.2,329.4 242.9,331.4 245.5,333.3 248.1,335.2 250.8,337.2 253.4,339.1 256.0,341.1"/><polyline fill="none" stroke="#1a48ff" stroke-width="1.6" opacity="0.6" points="240.0,321.2 242.0,322.7 244.0,324.2 246.0,325.7 248.0,327.1 250.0,328.6 252.0,330.1 254.0,331.6 256.0,333.1"/></g>
<g clip-path="url(#cB2)"><polygon fill="url(#gBand)"  points="160.0,369.5 163.0,371.4 166.0,373.4 169.0,375.3 172.0,377.3 175.0,379.2 178.0,381.1 181.0,383.1 184.0,385.0 187.0,387.0 190.0,388.9 193.0,390.9 196.0,392.8 199.0,394.8 202.0,396.6 205.0,398.4 208.0,400.1 211.0,401.9 214.0,403.7 217.0,405.5 220.0,407.3 223.0,409.0 226.0,410.8 229.0,412.6 232.0,414.4 235.0,416.1 238.0,417.9 241.0,419.7 244.0,421.5 247.0,423.3 250.0,425.0 253.0,426.8 256.0,428.6 256.0,397.6 253.0,395.8 250.0,394.0 247.0,392.3 244.0,390.5 241.0,388.7 238.0,386.9 235.0,385.1 232.0,383.4 229.0,381.6 226.0,379.8 223.0,378.0 220.0,376.3 217.0,374.5 214.0,372.7 211.0,370.9 208.0,369.1 205.0,367.4 202.0,365.6 199.0,363.8 196.0,361.8 193.0,359.9 190.0,357.9 187.0,356.0 184.0,354.0 181.0,352.1 178.0,350.1 175.0,348.2 172.0,346.3 169.0,344.3 166.0,342.4 163.0,340.4 160.0,338.5"/><polyline fill="none" stroke="#10209a" stroke-width="3" opacity="1" points="50.0,257.5 75.8,275.2 101.5,292.8 127.2,310.7 153.0,328.5 178.8,345.3 204.5,362.0 230.2,378.4 256.0,394.8"/><polyline fill="none" stroke="#8c90ff" stroke-width="1.2" opacity="0.9" stroke-dasharray="2.6 2.2" points="52.0,299.6 76.2,315.2 100.5,330.8 124.8,346.5 149.0,362.2 173.2,377.9 197.5,393.6 221.8,408.1 246.0,422.5"/><polyline fill="none" stroke="#5a78ff" stroke-width="1.2" opacity="0.8" stroke-dasharray="3 2.5" points="120.0,340.6 135.8,350.8 151.5,361.0 167.2,371.2 183.0,381.4 198.8,391.6 214.5,401.0 230.2,410.3 246.0,419.7"/><polyline fill="none" stroke="#30c8ff" stroke-width="2.5" opacity="0.85" points="175.0,372.2 185.1,378.8 195.2,385.3 205.4,391.6 215.5,397.6 225.6,403.6 235.8,409.6 245.9,415.6 256.0,421.6"/><polyline fill="none" stroke="#40d8ff" stroke-width="3" opacity="0.9" points="185.0,374.7 193.9,380.4 202.8,386.0 211.6,391.3 220.5,396.5 229.4,401.8 238.2,407.1 247.1,412.3 256.0,417.6"/><polyline fill="none" stroke="#3090ff" stroke-width="2.5" opacity="0.9" points="190.0,372.9 198.2,378.3 206.5,383.3 214.8,388.1 223.0,393.0 231.2,397.9 239.5,402.8 247.8,407.7 256.0,412.6"/><polyline fill="none" stroke="#40e0ff" stroke-width="2.6" opacity="0.9" points="198.0,374.1 205.2,378.5 212.5,382.8 219.8,387.1 227.0,391.4 234.2,395.7 241.5,400.0 248.8,404.3 256.0,408.6"/><polyline fill="none" stroke="#30a8ff" stroke-width="2.2" opacity="0.85" points="205.0,373.4 211.4,377.1 217.8,380.9 224.1,384.7 230.5,388.5 236.9,392.3 243.2,396.0 249.6,399.8 256.0,403.6"/><polyline fill="none" stroke="#50d0ff" stroke-width="2" opacity="0.8" points="212.0,373.5 217.5,376.8 223.0,380.0 228.5,383.3 234.0,386.6 239.5,389.8 245.0,393.1 250.5,396.3 256.0,399.6"/><polyline fill="none" stroke="#b070ff" stroke-width="2" opacity="0.9" points="215.0,378.7 220.1,382.0 225.2,385.3 230.4,388.5 235.5,391.8 240.6,395.0 245.8,398.3 250.9,401.6 256.0,404.8"/><polyline fill="none" stroke="#e02090" stroke-width="2.4" opacity="0.95" points="222.0,379.7 226.2,382.4 230.5,385.1 234.8,387.8 239.0,390.5 243.2,393.2 247.5,395.9 251.8,398.6 256.0,401.3"/><polyline fill="none" stroke="#a080ff" stroke-width="1.8" opacity="0.9" points="215.0,400.3 220.1,403.3 225.2,406.4 230.4,409.4 235.5,412.4 240.6,415.5 245.8,418.5 250.9,421.6 256.0,424.6"/></g>
<g clip-path="url(#cB3)"><polyline fill="none" stroke="#10209a" stroke-width="5" opacity="1" points="50.0,369.9 68.8,378.1 87.5,386.3 106.2,394.5 125.0,402.6 143.8,410.8 162.5,419.0 181.2,427.2 200.0,435.4"/><polyline fill="none" stroke="#30e8ff" stroke-width="2.4" opacity="0.95" points="150.0,404.6 156.2,407.5 162.5,410.3 168.8,413.2 175.0,416.1 181.2,419.0 187.5,421.9 193.8,424.8 200.0,427.7"/><polyline fill="none" stroke="#28a0ff" stroke-width="1.6" opacity="0.9" points="160.0,411.7 165.0,414.0 170.0,416.3 175.0,418.6 180.0,420.9 185.0,423.2 190.0,425.5 195.0,427.9 200.0,430.2"/></g>
<rect x="49.7" y="231" width="205.2" height="190.7" fill="none" stroke="#000" stroke-width="2"/>
<rect x="266.8" y="230.6" width="21.9" height="191.1" fill="url(#cb)" stroke="#000" stroke-width="2" rx="1"/>
<text x="260.5" y="218.3" font-size="15.4">Noise</text>
<text x="296.5" y="236" font-size="15.4">40%</text>
<text x="296.5" y="283.4" font-size="15.4">30%</text>
<text x="296.5" y="331.6" font-size="15.4">20%</text>
<text x="296.5" y="380.6" font-size="15.4">10%</text>
<text x="296.5" y="427.2" font-size="15.4">0</text>
<text x="44" y="256.2" font-size="15.4" text-anchor="end">15</text>
<text x="44" y="296.4" font-size="15.4" text-anchor="end">13</text>
<text x="44" y="336.2" font-size="15.4" text-anchor="end">11</text>
<text x="44" y="375.2" font-size="15.4" text-anchor="end">9</text>
<text x="44" y="416.2" font-size="15.4" text-anchor="end">7</text>
<text x="54.5" y="442.3" font-size="15.4" text-anchor="middle">0.01</text>
<text x="100" y="442.3" font-size="15.4" text-anchor="middle">0.017</text>
<text x="146.5" y="442.3" font-size="15.4" text-anchor="middle">0.03</text>
<text x="197.3" y="442.3" font-size="15.4" text-anchor="middle">0.054</text>
<text x="246.3" y="442.3" font-size="15.4" text-anchor="middle">0.095</text>
<text x="154" y="463.4" font-size="15.4" text-anchor="middle">Inhibitor diffusion range</text>
<text transform="translate(13.4,332.6) rotate(-90)" font-size="16" text-anchor="middle">Normalized production</text>
<line x1="526.1" y1="232" x2="526.1" y2="384" stroke="#000" stroke-width="1.8" stroke-dasharray="13.6 14.9" stroke-dashoffset="3.5"/>
<rect x="398.5" y="368.1" width="53.19999999999999" height="16.399999999999977" fill="#ff0000" stroke="#222" stroke-width="1"/>
<rect x="466.1" y="331.5" width="52.69999999999993" height="53" fill="#2c7b12" stroke="#222" stroke-width="1"/>
<rect x="535.3" y="355.6" width="52.90000000000009" height="28.899999999999977" fill="#ff0000" stroke="#222" stroke-width="1"/>
<rect x="600.8" y="261.6" width="52.90000000000009" height="122.89999999999998" fill="#2c7b12" stroke="#222" stroke-width="1"/>
<rect x="392.4" y="231.9" width="268.6" height="152.4" fill="none" stroke="#000" stroke-width="2.2"/>
<text x="424.8" y="364.1" font-size="15.4" text-anchor="middle">9%</text>
<text x="492.4" y="326.9" font-size="15.4" text-anchor="middle">29%</text>
<text x="563.1" y="351.6" font-size="15.4" text-anchor="middle">16%</text>
<text x="627.7" y="256.4" font-size="15.4" text-anchor="middle">68%</text>
<text x="385.5" y="277.2" font-size="15.4" text-anchor="end">60%</text>
<text x="385.5" y="315.6" font-size="15.4" text-anchor="end">40%</text>
<text x="385.5" y="353.7" font-size="15.4" text-anchor="end">20%</text>
<text x="414.4" y="221.2" font-size="15.4">Maximal noise</text>
<text x="544.6" y="221.2" font-size="15.4">Coloured area</text>
<rect x="361.7" y="397" width="27" height="27" fill="#ff0000"/>
<rect x="361.7" y="432.4" width="27" height="27.4" fill="#2c7b12"/>
<text x="394.5" y="417.1" font-size="15.4">No activator</text>
<text x="394.5" y="453.2" font-size="15.4">With activator — full network</text>
</svg></body></html>
